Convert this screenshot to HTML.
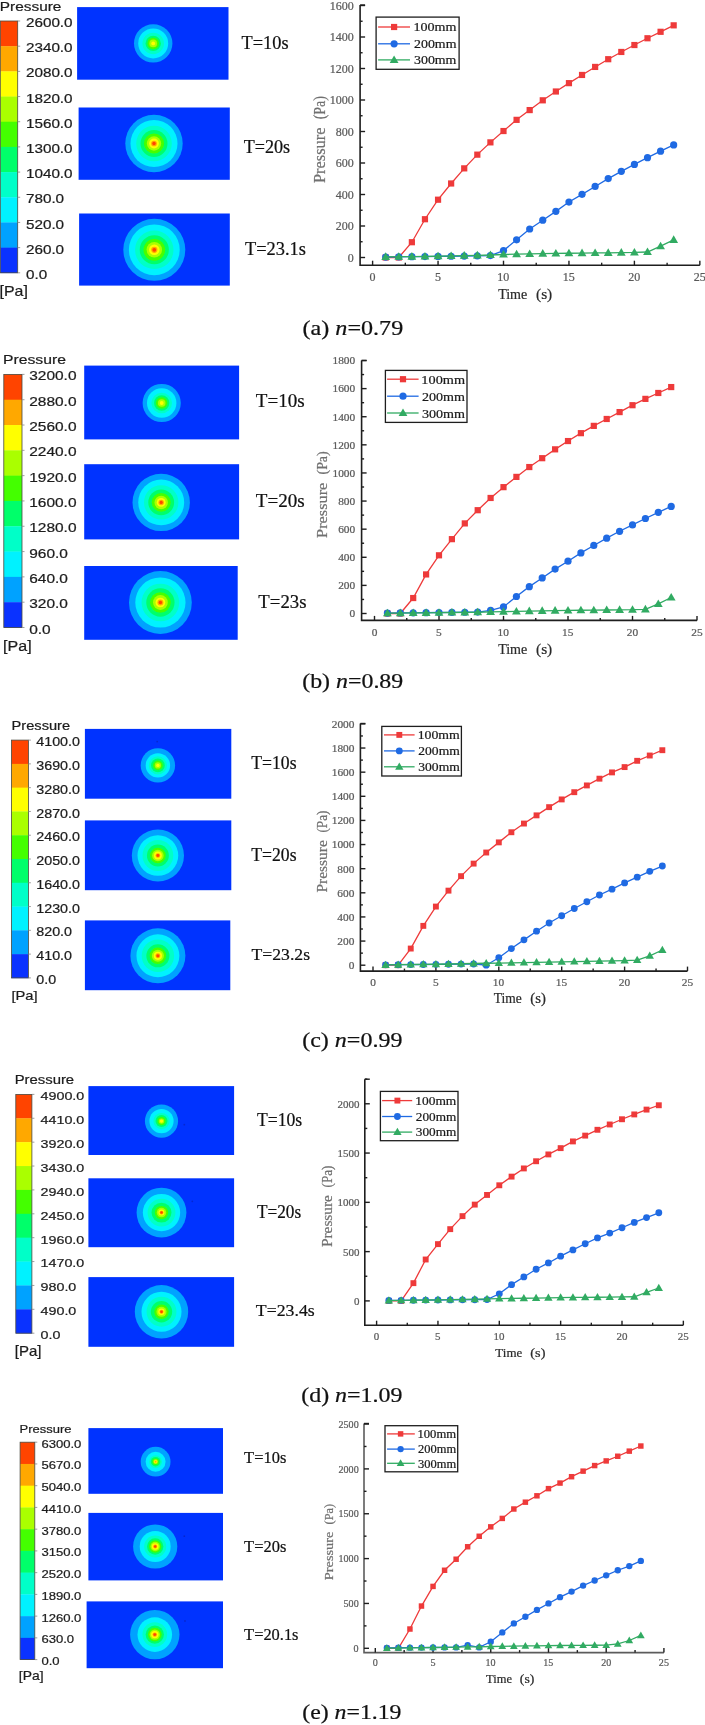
<!DOCTYPE html>
<html><head><meta charset="utf-8"><title>figure</title>
<style>html,body{margin:0;padding:0;background:#fff;}body{width:705px;height:1725px;overflow:hidden;}svg{display:block;filter:blur(0.35px);} .b text{stroke-width:0.22px;}</style>
</head><body>
<svg width="705" height="1725" viewBox="0 0 705 1725">
<defs><filter id="blur" x="-20%" y="-20%" width="140%" height="140%"><feGaussianBlur stdDeviation="0.7"/></filter></defs>
<rect width="705" height="1725" fill="#fff"/>
<g class="b">
<text x="-0.17" y="10.67" font-size="13.05" font-family='"Liberation Sans", sans-serif' fill="#1c1c1c" stroke="#1c1c1c" textLength="61.55" lengthAdjust="spacingAndGlyphs" >Pressure</text>
<rect x="0.3" y="21" width="17.4" height="25.48" fill="#ff4400"/>
<rect x="0.3" y="46.18" width="17.4" height="25.48" fill="#ffa800"/>
<rect x="0.3" y="71.36" width="17.4" height="25.48" fill="#ffff00"/>
<rect x="0.3" y="96.54" width="17.4" height="25.48" fill="#aaff00"/>
<rect x="0.3" y="121.72" width="17.4" height="25.48" fill="#44ff00"/>
<rect x="0.3" y="146.9" width="17.4" height="25.48" fill="#00ff6a"/>
<rect x="0.3" y="172.08" width="17.4" height="25.48" fill="#00ffc8"/>
<rect x="0.3" y="197.26" width="17.4" height="25.48" fill="#00f2ff"/>
<rect x="0.3" y="222.44" width="17.4" height="25.48" fill="#00a2ff"/>
<rect x="0.3" y="247.62" width="17.4" height="25.48" fill="#0a32ff"/>
<rect x="0.3" y="21" width="17.4" height="251.8" fill="none" stroke="#4a4a40" stroke-width="0.8"/>
<line x1="17.7" y1="21" x2="20.2" y2="21" stroke="#888" stroke-width="0.8"/>
<text x="25.94" y="27.07" font-size="12.72" font-family='"Liberation Sans", sans-serif' fill="#1c1c1c" stroke="#1c1c1c" textLength="46.65" lengthAdjust="spacingAndGlyphs">2600.0</text>
<line x1="17.7" y1="46.18" x2="20.2" y2="46.18" stroke="#888" stroke-width="0.8"/>
<text x="25.94" y="52.25" font-size="12.72" font-family='"Liberation Sans", sans-serif' fill="#1c1c1c" stroke="#1c1c1c" textLength="46.65" lengthAdjust="spacingAndGlyphs">2340.0</text>
<line x1="17.7" y1="71.36" x2="20.2" y2="71.36" stroke="#888" stroke-width="0.8"/>
<text x="25.94" y="77.43" font-size="12.72" font-family='"Liberation Sans", sans-serif' fill="#1c1c1c" stroke="#1c1c1c" textLength="46.65" lengthAdjust="spacingAndGlyphs">2080.0</text>
<line x1="17.7" y1="96.54" x2="20.2" y2="96.54" stroke="#888" stroke-width="0.8"/>
<text x="25.94" y="102.61" font-size="12.72" font-family='"Liberation Sans", sans-serif' fill="#1c1c1c" stroke="#1c1c1c" textLength="46.65" lengthAdjust="spacingAndGlyphs">1820.0</text>
<line x1="17.7" y1="121.72" x2="20.2" y2="121.72" stroke="#888" stroke-width="0.8"/>
<text x="25.94" y="127.79" font-size="12.72" font-family='"Liberation Sans", sans-serif' fill="#1c1c1c" stroke="#1c1c1c" textLength="46.65" lengthAdjust="spacingAndGlyphs">1560.0</text>
<line x1="17.7" y1="146.9" x2="20.2" y2="146.9" stroke="#888" stroke-width="0.8"/>
<text x="25.94" y="152.97" font-size="12.72" font-family='"Liberation Sans", sans-serif' fill="#1c1c1c" stroke="#1c1c1c" textLength="46.65" lengthAdjust="spacingAndGlyphs">1300.0</text>
<line x1="17.7" y1="172.08" x2="20.2" y2="172.08" stroke="#888" stroke-width="0.8"/>
<text x="25.94" y="178.15" font-size="12.72" font-family='"Liberation Sans", sans-serif' fill="#1c1c1c" stroke="#1c1c1c" textLength="46.65" lengthAdjust="spacingAndGlyphs">1040.0</text>
<line x1="17.7" y1="197.26" x2="20.2" y2="197.26" stroke="#888" stroke-width="0.8"/>
<text x="25.94" y="203.33" font-size="12.72" font-family='"Liberation Sans", sans-serif' fill="#1c1c1c" stroke="#1c1c1c" textLength="38.17" lengthAdjust="spacingAndGlyphs">780.0</text>
<line x1="17.7" y1="222.44" x2="20.2" y2="222.44" stroke="#888" stroke-width="0.8"/>
<text x="25.94" y="228.51" font-size="12.72" font-family='"Liberation Sans", sans-serif' fill="#1c1c1c" stroke="#1c1c1c" textLength="38.17" lengthAdjust="spacingAndGlyphs">520.0</text>
<line x1="17.7" y1="247.62" x2="20.2" y2="247.62" stroke="#888" stroke-width="0.8"/>
<text x="25.94" y="253.69" font-size="12.72" font-family='"Liberation Sans", sans-serif' fill="#1c1c1c" stroke="#1c1c1c" textLength="38.17" lengthAdjust="spacingAndGlyphs">260.0</text>
<line x1="17.7" y1="272.8" x2="20.2" y2="272.8" stroke="#888" stroke-width="0.8"/>
<text x="25.94" y="278.87" font-size="12.72" font-family='"Liberation Sans", sans-serif' fill="#1c1c1c" stroke="#1c1c1c" textLength="21.2" lengthAdjust="spacingAndGlyphs">0.0</text>
<text x="-0.45" y="296.42" font-size="14.37" font-family='"Liberation Sans", sans-serif' fill="#1c1c1c" stroke="#1c1c1c" textLength="28.29" lengthAdjust="spacingAndGlyphs" >[Pa]</text>
<rect x="77.1" y="7.1" width="151.4" height="72.6" fill="#0033ff"/>
<g filter="url(#blur)">
<circle cx="153.2" cy="43.4" r="19.2" fill="#00a2ff"/>
<circle cx="153.2" cy="43.4" r="14.98" fill="#00f2ff"/>
<circle cx="153.2" cy="43.4" r="10.75" fill="#00ffc8"/>
<circle cx="153.2" cy="43.4" r="7.68" fill="#00ff6a"/>
<circle cx="153.2" cy="43.4" r="5.76" fill="#44ff00"/>
<circle cx="153.2" cy="43.4" r="3.84" fill="#aaff00"/>
<circle cx="153.2" cy="43.4" r="1.92" fill="#ffff00"/>
</g>
<rect x="78.6" y="107.5" width="151.2" height="72.3" fill="#0033ff"/>
<g filter="url(#blur)">
<circle cx="154" cy="143.5" r="28.7" fill="#00a2ff"/>
<circle cx="154" cy="143.5" r="23.53" fill="#00f2ff"/>
<circle cx="154" cy="143.5" r="17.79" fill="#00ffc8"/>
<circle cx="154" cy="143.5" r="13.49" fill="#00ff6a"/>
<circle cx="154" cy="143.5" r="10.04" fill="#44ff00"/>
<circle cx="154" cy="143.5" r="7.17" fill="#aaff00"/>
<circle cx="154" cy="143.5" r="4.88" fill="#ffff00"/>
<circle cx="154" cy="143.5" r="2.87" fill="#ffa800"/>
<circle cx="154" cy="143.5" r="1.72" fill="#ff4400"/>
</g>
<rect x="79.1" y="213.5" width="150.7" height="72.1" fill="#0033ff"/>
<g filter="url(#blur)">
<circle cx="154.3" cy="249.8" r="31" fill="#00a2ff"/>
<circle cx="154.3" cy="249.8" r="25.42" fill="#00f2ff"/>
<circle cx="154.3" cy="249.8" r="19.22" fill="#00ffc8"/>
<circle cx="154.3" cy="249.8" r="14.57" fill="#00ff6a"/>
<circle cx="154.3" cy="249.8" r="10.85" fill="#44ff00"/>
<circle cx="154.3" cy="249.8" r="7.75" fill="#aaff00"/>
<circle cx="154.3" cy="249.8" r="5.27" fill="#ffff00"/>
<circle cx="154.3" cy="249.8" r="3.1" fill="#ffa800"/>
<circle cx="154.3" cy="249.8" r="1.86" fill="#ff4400"/>
</g>
<text x="241.58" y="49.21" font-size="18.67" font-family='"Liberation Serif", serif' fill="#111" stroke="#111" textLength="46.99" lengthAdjust="spacingAndGlyphs" >T=10s</text>
<text x="243.68" y="153.11" font-size="18.67" font-family='"Liberation Serif", serif' fill="#111" stroke="#111" textLength="46.38" lengthAdjust="spacingAndGlyphs" >T=20s</text>
<text x="244.98" y="255.22" font-size="18.6" font-family='"Liberation Serif", serif' fill="#111" stroke="#111" textLength="60.99" lengthAdjust="spacingAndGlyphs" >T=23.1s</text>
<path d="M360.1 5 V265.2 H699.85" fill="none" stroke="#1e1e1e" stroke-width="1.6"/>
<line x1="360.1" y1="257.5" x2="365.1" y2="257.5" stroke="#1e1e1e" stroke-width="1.4"/>
<text x="347.74" y="261.68" font-size="11.56" font-family='"Liberation Serif", serif' fill="#5a5a5a" stroke="#5a5a5a" textLength="6.01" lengthAdjust="spacingAndGlyphs">0</text>
<line x1="360.1" y1="241.75" x2="362.6" y2="241.75" stroke="#1e1e1e" stroke-width="1.4"/>
<line x1="360.1" y1="226" x2="365.1" y2="226" stroke="#1e1e1e" stroke-width="1.4"/>
<text x="335.72" y="230.18" font-size="11.56" font-family='"Liberation Serif", serif' fill="#5a5a5a" stroke="#5a5a5a" textLength="18.03" lengthAdjust="spacingAndGlyphs">200</text>
<line x1="360.1" y1="210.25" x2="362.6" y2="210.25" stroke="#1e1e1e" stroke-width="1.4"/>
<line x1="360.1" y1="194.5" x2="365.1" y2="194.5" stroke="#1e1e1e" stroke-width="1.4"/>
<text x="335.72" y="198.68" font-size="11.56" font-family='"Liberation Serif", serif' fill="#5a5a5a" stroke="#5a5a5a" textLength="18.03" lengthAdjust="spacingAndGlyphs">400</text>
<line x1="360.1" y1="178.75" x2="362.6" y2="178.75" stroke="#1e1e1e" stroke-width="1.4"/>
<line x1="360.1" y1="163" x2="365.1" y2="163" stroke="#1e1e1e" stroke-width="1.4"/>
<text x="335.72" y="167.18" font-size="11.56" font-family='"Liberation Serif", serif' fill="#5a5a5a" stroke="#5a5a5a" textLength="18.03" lengthAdjust="spacingAndGlyphs">600</text>
<line x1="360.1" y1="147.25" x2="362.6" y2="147.25" stroke="#1e1e1e" stroke-width="1.4"/>
<line x1="360.1" y1="131.5" x2="365.1" y2="131.5" stroke="#1e1e1e" stroke-width="1.4"/>
<text x="335.72" y="135.68" font-size="11.56" font-family='"Liberation Serif", serif' fill="#5a5a5a" stroke="#5a5a5a" textLength="18.03" lengthAdjust="spacingAndGlyphs">800</text>
<line x1="360.1" y1="115.75" x2="362.6" y2="115.75" stroke="#1e1e1e" stroke-width="1.4"/>
<line x1="360.1" y1="100" x2="365.1" y2="100" stroke="#1e1e1e" stroke-width="1.4"/>
<text x="329.72" y="104.18" font-size="11.56" font-family='"Liberation Serif", serif' fill="#5a5a5a" stroke="#5a5a5a" textLength="24.04" lengthAdjust="spacingAndGlyphs">1000</text>
<line x1="360.1" y1="84.25" x2="362.6" y2="84.25" stroke="#1e1e1e" stroke-width="1.4"/>
<line x1="360.1" y1="68.5" x2="365.1" y2="68.5" stroke="#1e1e1e" stroke-width="1.4"/>
<text x="329.72" y="72.68" font-size="11.56" font-family='"Liberation Serif", serif' fill="#5a5a5a" stroke="#5a5a5a" textLength="24.04" lengthAdjust="spacingAndGlyphs">1200</text>
<line x1="360.1" y1="52.75" x2="362.6" y2="52.75" stroke="#1e1e1e" stroke-width="1.4"/>
<line x1="360.1" y1="37" x2="365.1" y2="37" stroke="#1e1e1e" stroke-width="1.4"/>
<text x="329.72" y="41.18" font-size="11.56" font-family='"Liberation Serif", serif' fill="#5a5a5a" stroke="#5a5a5a" textLength="24.04" lengthAdjust="spacingAndGlyphs">1400</text>
<line x1="360.1" y1="21.25" x2="362.6" y2="21.25" stroke="#1e1e1e" stroke-width="1.4"/>
<line x1="360.1" y1="5.5" x2="365.1" y2="5.5" stroke="#1e1e1e" stroke-width="1.4"/>
<text x="329.72" y="9.68" font-size="11.56" font-family='"Liberation Serif", serif' fill="#5a5a5a" stroke="#5a5a5a" textLength="24.04" lengthAdjust="spacingAndGlyphs">1600</text>
<line x1="360.1" y1="5" x2="365.1" y2="5" stroke="#1e1e1e" stroke-width="1.4"/>
<line x1="372.6" y1="265.2" x2="372.6" y2="260.7" stroke="#1e1e1e" stroke-width="1.4"/>
<text x="369.6" y="281.18" font-size="11.56" font-family='"Liberation Serif", serif' fill="#5a5a5a" stroke="#5a5a5a" textLength="6.01" lengthAdjust="spacingAndGlyphs">0</text>
<line x1="405.33" y1="265.2" x2="405.33" y2="262.7" stroke="#1e1e1e" stroke-width="1.4"/>
<line x1="438.05" y1="265.2" x2="438.05" y2="260.7" stroke="#1e1e1e" stroke-width="1.4"/>
<text x="434.94" y="281.18" font-size="11.56" font-family='"Liberation Serif", serif' fill="#5a5a5a" stroke="#5a5a5a" textLength="6.01" lengthAdjust="spacingAndGlyphs">5</text>
<line x1="470.78" y1="265.2" x2="470.78" y2="262.7" stroke="#1e1e1e" stroke-width="1.4"/>
<line x1="503.5" y1="265.2" x2="503.5" y2="260.7" stroke="#1e1e1e" stroke-width="1.4"/>
<text x="497.19" y="281.18" font-size="11.56" font-family='"Liberation Serif", serif' fill="#5a5a5a" stroke="#5a5a5a" textLength="12.02" lengthAdjust="spacingAndGlyphs">10</text>
<line x1="536.23" y1="265.2" x2="536.23" y2="262.7" stroke="#1e1e1e" stroke-width="1.4"/>
<line x1="568.95" y1="265.2" x2="568.95" y2="260.7" stroke="#1e1e1e" stroke-width="1.4"/>
<text x="562.66" y="281.18" font-size="11.56" font-family='"Liberation Serif", serif' fill="#5a5a5a" stroke="#5a5a5a" textLength="12.02" lengthAdjust="spacingAndGlyphs">15</text>
<line x1="601.67" y1="265.2" x2="601.67" y2="262.7" stroke="#1e1e1e" stroke-width="1.4"/>
<line x1="634.4" y1="265.2" x2="634.4" y2="260.7" stroke="#1e1e1e" stroke-width="1.4"/>
<text x="628.35" y="281.18" font-size="11.56" font-family='"Liberation Serif", serif' fill="#5a5a5a" stroke="#5a5a5a" textLength="12.02" lengthAdjust="spacingAndGlyphs">20</text>
<line x1="667.12" y1="265.2" x2="667.12" y2="262.7" stroke="#1e1e1e" stroke-width="1.4"/>
<line x1="699.85" y1="265.2" x2="699.85" y2="260.7" stroke="#1e1e1e" stroke-width="1.4"/>
<text x="693.81" y="281.18" font-size="11.56" font-family='"Liberation Serif", serif' fill="#5a5a5a" stroke="#5a5a5a" textLength="12.02" lengthAdjust="spacingAndGlyphs">25</text>
<text x="498.15" y="298.95" font-size="14.72" font-family='"Liberation Serif", serif' fill="#2a2a2a" stroke="#2a2a2a" textLength="29.11" lengthAdjust="spacingAndGlyphs" >Time</text>
<text x="536.01" y="299.1" font-size="14.72" font-family='"Liberation Serif", serif' fill="#2a2a2a" stroke="#2a2a2a" textLength="16.25" lengthAdjust="spacingAndGlyphs">(s)</text>
<g transform="translate(325 182.6) rotate(-90)">
<text x="-0.49" y="-0.16" font-size="15.94" font-family='"Liberation Serif", serif' fill="#707070" stroke="#707070" textLength="55.56" lengthAdjust="spacingAndGlyphs" >Pressure</text>
<text x="63.27" y="0" font-size="15.94" font-family='"Liberation Serif", serif' fill="#707070" stroke="#707070" textLength="23.34" lengthAdjust="spacingAndGlyphs">(Pa)</text>
</g>
<polyline points="385.69,257.5 398.78,257.5 411.87,242.22 424.96,219.23 438.05,199.7 451.14,183.47 464.23,168.36 477.32,154.65 490.41,142.37 503.5,131.03 516.59,119.84 529.68,110.08 542.77,100.31 555.86,91.5 568.95,83.15 582.04,74.96 595.13,66.93 608.22,59.21 621.31,51.96 634.4,45.03 647.49,38.26 660.58,31.8 673.67,25.34" fill="none" stroke="#ee3a3a" stroke-width="1.3"/>
<rect x="382.59" y="254.4" width="6.2" height="6.2" fill="#ee3a3a"/>
<rect x="395.68" y="254.4" width="6.2" height="6.2" fill="#ee3a3a"/>
<rect x="408.77" y="239.12" width="6.2" height="6.2" fill="#ee3a3a"/>
<rect x="421.86" y="216.13" width="6.2" height="6.2" fill="#ee3a3a"/>
<rect x="434.95" y="196.6" width="6.2" height="6.2" fill="#ee3a3a"/>
<rect x="448.04" y="180.38" width="6.2" height="6.2" fill="#ee3a3a"/>
<rect x="461.13" y="165.26" width="6.2" height="6.2" fill="#ee3a3a"/>
<rect x="474.22" y="151.55" width="6.2" height="6.2" fill="#ee3a3a"/>
<rect x="487.31" y="139.27" width="6.2" height="6.2" fill="#ee3a3a"/>
<rect x="500.4" y="127.93" width="6.2" height="6.2" fill="#ee3a3a"/>
<rect x="513.49" y="116.75" width="6.2" height="6.2" fill="#ee3a3a"/>
<rect x="526.58" y="106.98" width="6.2" height="6.2" fill="#ee3a3a"/>
<rect x="539.67" y="97.22" width="6.2" height="6.2" fill="#ee3a3a"/>
<rect x="552.76" y="88.4" width="6.2" height="6.2" fill="#ee3a3a"/>
<rect x="565.85" y="80.05" width="6.2" height="6.2" fill="#ee3a3a"/>
<rect x="578.94" y="71.86" width="6.2" height="6.2" fill="#ee3a3a"/>
<rect x="592.03" y="63.83" width="6.2" height="6.2" fill="#ee3a3a"/>
<rect x="605.12" y="56.11" width="6.2" height="6.2" fill="#ee3a3a"/>
<rect x="618.21" y="48.86" width="6.2" height="6.2" fill="#ee3a3a"/>
<rect x="631.3" y="41.93" width="6.2" height="6.2" fill="#ee3a3a"/>
<rect x="644.39" y="35.16" width="6.2" height="6.2" fill="#ee3a3a"/>
<rect x="657.48" y="28.7" width="6.2" height="6.2" fill="#ee3a3a"/>
<rect x="670.57" y="22.24" width="6.2" height="6.2" fill="#ee3a3a"/>
<polyline points="385.69,257.03 398.78,256.87 411.87,256.71 424.96,256.56 438.05,256.4 451.14,256.24 464.23,256.08 477.32,255.93 490.41,255.61 503.5,250.57 516.59,239.86 529.68,228.99 542.77,220.17 555.86,211.35 568.95,202.06 582.04,194.34 595.13,186.47 608.22,178.59 621.31,171.35 634.4,164.42 647.49,157.64 660.58,151.19 673.67,144.89" fill="none" stroke="#1f6ae3" stroke-width="1.3"/>
<circle cx="385.69" cy="257.03" r="3.6" fill="#1f6ae3"/>
<circle cx="398.78" cy="256.87" r="3.6" fill="#1f6ae3"/>
<circle cx="411.87" cy="256.71" r="3.6" fill="#1f6ae3"/>
<circle cx="424.96" cy="256.56" r="3.6" fill="#1f6ae3"/>
<circle cx="438.05" cy="256.4" r="3.6" fill="#1f6ae3"/>
<circle cx="451.14" cy="256.24" r="3.6" fill="#1f6ae3"/>
<circle cx="464.23" cy="256.08" r="3.6" fill="#1f6ae3"/>
<circle cx="477.32" cy="255.93" r="3.6" fill="#1f6ae3"/>
<circle cx="490.41" cy="255.61" r="3.6" fill="#1f6ae3"/>
<circle cx="503.5" cy="250.57" r="3.6" fill="#1f6ae3"/>
<circle cx="516.59" cy="239.86" r="3.6" fill="#1f6ae3"/>
<circle cx="529.68" cy="228.99" r="3.6" fill="#1f6ae3"/>
<circle cx="542.77" cy="220.17" r="3.6" fill="#1f6ae3"/>
<circle cx="555.86" cy="211.35" r="3.6" fill="#1f6ae3"/>
<circle cx="568.95" cy="202.06" r="3.6" fill="#1f6ae3"/>
<circle cx="582.04" cy="194.34" r="3.6" fill="#1f6ae3"/>
<circle cx="595.13" cy="186.47" r="3.6" fill="#1f6ae3"/>
<circle cx="608.22" cy="178.59" r="3.6" fill="#1f6ae3"/>
<circle cx="621.31" cy="171.35" r="3.6" fill="#1f6ae3"/>
<circle cx="634.4" cy="164.42" r="3.6" fill="#1f6ae3"/>
<circle cx="647.49" cy="157.64" r="3.6" fill="#1f6ae3"/>
<circle cx="660.58" cy="151.19" r="3.6" fill="#1f6ae3"/>
<circle cx="673.67" cy="144.89" r="3.6" fill="#1f6ae3"/>
<polyline points="385.69,256.87 398.78,256.71 411.87,256.56 424.96,256.4 438.05,256.24 451.14,255.93 464.23,255.61 477.32,255.29 490.41,254.98 503.5,254.51 516.59,254.19 529.68,253.88 542.77,253.56 555.86,253.41 568.95,253.25 582.04,253.09 595.13,252.93 608.22,252.78 621.31,252.62 634.4,252.46 647.49,251.99 660.58,246.16 673.67,239.86" fill="none" stroke="#31ab62" stroke-width="1.3"/>
<path d="M381.29 259.97 L390.09 259.97 L385.69 252.37 Z" fill="#31ab62"/>
<path d="M394.38 259.81 L403.18 259.81 L398.78 252.21 Z" fill="#31ab62"/>
<path d="M407.47 259.66 L416.27 259.66 L411.87 252.06 Z" fill="#31ab62"/>
<path d="M420.56 259.5 L429.36 259.5 L424.96 251.9 Z" fill="#31ab62"/>
<path d="M433.65 259.34 L442.45 259.34 L438.05 251.74 Z" fill="#31ab62"/>
<path d="M446.74 259.03 L455.54 259.03 L451.14 251.43 Z" fill="#31ab62"/>
<path d="M459.83 258.71 L468.63 258.71 L464.23 251.11 Z" fill="#31ab62"/>
<path d="M472.92 258.39 L481.72 258.39 L477.32 250.79 Z" fill="#31ab62"/>
<path d="M486.01 258.08 L494.81 258.08 L490.41 250.48 Z" fill="#31ab62"/>
<path d="M499.1 257.61 L507.9 257.61 L503.5 250.01 Z" fill="#31ab62"/>
<path d="M512.19 257.29 L520.99 257.29 L516.59 249.69 Z" fill="#31ab62"/>
<path d="M525.28 256.98 L534.08 256.98 L529.68 249.38 Z" fill="#31ab62"/>
<path d="M538.37 256.66 L547.17 256.66 L542.77 249.06 Z" fill="#31ab62"/>
<path d="M551.46 256.5 L560.26 256.5 L555.86 248.91 Z" fill="#31ab62"/>
<path d="M564.55 256.35 L573.35 256.35 L568.95 248.75 Z" fill="#31ab62"/>
<path d="M577.64 256.19 L586.44 256.19 L582.04 248.59 Z" fill="#31ab62"/>
<path d="M590.73 256.03 L599.53 256.03 L595.13 248.43 Z" fill="#31ab62"/>
<path d="M603.82 255.88 L612.62 255.88 L608.22 248.28 Z" fill="#31ab62"/>
<path d="M616.91 255.72 L625.71 255.72 L621.31 248.12 Z" fill="#31ab62"/>
<path d="M630 255.56 L638.8 255.56 L634.4 247.96 Z" fill="#31ab62"/>
<path d="M643.09 255.09 L651.89 255.09 L647.49 247.49 Z" fill="#31ab62"/>
<path d="M656.18 249.26 L664.98 249.26 L660.58 241.66 Z" fill="#31ab62"/>
<path d="M669.27 242.96 L678.07 242.96 L673.67 235.36 Z" fill="#31ab62"/>
<rect x="376.1" y="17.1" width="83" height="52.2" fill="#fff" stroke="#1e1e1e" stroke-width="1.3"/>
<line x1="378.1" y1="27" x2="410" y2="27" stroke="#ee3a3a" stroke-width="1.3"/>
<rect x="391" y="23.9" width="6.2" height="6.2" fill="#ee3a3a"/>
<text x="413.47" y="31.17" font-size="12.59" font-family='"Liberation Serif", serif' fill="#1a1a1a" stroke="#1a1a1a" textLength="42.95" lengthAdjust="spacingAndGlyphs" >100mm</text>
<line x1="378.1" y1="43.8" x2="410" y2="43.8" stroke="#1f6ae3" stroke-width="1.3"/>
<circle cx="394.1" cy="43.8" r="3.6" fill="#1f6ae3"/>
<text x="414.08" y="47.97" font-size="12.59" font-family='"Liberation Serif", serif' fill="#1a1a1a" stroke="#1a1a1a" textLength="42.34" lengthAdjust="spacingAndGlyphs" >200mm</text>
<line x1="378.1" y1="59.9" x2="410" y2="59.9" stroke="#31ab62" stroke-width="1.3"/>
<path d="M389.7 63 L398.5 63 L394.1 55.4 Z" fill="#31ab62"/>
<text x="414.04" y="64.07" font-size="12.59" font-family='"Liberation Serif", serif' fill="#1a1a1a" stroke="#1a1a1a" textLength="42.38" lengthAdjust="spacingAndGlyphs" >300mm</text>
<text x="302.51" y="334.8" font-size="20.44" font-family='"Liberation Serif", serif' fill="#111" stroke="#111" textLength="100.73" lengthAdjust="spacingAndGlyphs">(a) <tspan font-style="italic">n</tspan>=0.79</text>
<text x="3" y="363.97" font-size="13.19" font-family='"Liberation Sans", sans-serif' fill="#1c1c1c" stroke="#1c1c1c" textLength="62.89" lengthAdjust="spacingAndGlyphs" >Pressure</text>
<rect x="3.8" y="374.4" width="18.2" height="25.61" fill="#ff4400"/>
<rect x="3.8" y="399.71" width="18.2" height="25.61" fill="#ffa800"/>
<rect x="3.8" y="425.02" width="18.2" height="25.61" fill="#ffff00"/>
<rect x="3.8" y="450.33" width="18.2" height="25.61" fill="#aaff00"/>
<rect x="3.8" y="475.64" width="18.2" height="25.61" fill="#44ff00"/>
<rect x="3.8" y="500.95" width="18.2" height="25.61" fill="#00ff6a"/>
<rect x="3.8" y="526.26" width="18.2" height="25.61" fill="#00ffc8"/>
<rect x="3.8" y="551.57" width="18.2" height="25.61" fill="#00f2ff"/>
<rect x="3.8" y="576.88" width="18.2" height="25.61" fill="#00a2ff"/>
<rect x="3.8" y="602.19" width="18.2" height="25.61" fill="#0a32ff"/>
<rect x="3.8" y="374.4" width="18.2" height="253.1" fill="none" stroke="#4a4a40" stroke-width="0.8"/>
<line x1="22" y1="374.4" x2="24.5" y2="374.4" stroke="#888" stroke-width="0.8"/>
<text x="29.22" y="380.47" font-size="12.72" font-family='"Liberation Sans", sans-serif' fill="#1c1c1c" stroke="#1c1c1c" textLength="47.28" lengthAdjust="spacingAndGlyphs">3200.0</text>
<line x1="22" y1="399.71" x2="24.5" y2="399.71" stroke="#888" stroke-width="0.8"/>
<text x="29.22" y="405.78" font-size="12.72" font-family='"Liberation Sans", sans-serif' fill="#1c1c1c" stroke="#1c1c1c" textLength="47.28" lengthAdjust="spacingAndGlyphs">2880.0</text>
<line x1="22" y1="425.02" x2="24.5" y2="425.02" stroke="#888" stroke-width="0.8"/>
<text x="29.22" y="431.09" font-size="12.72" font-family='"Liberation Sans", sans-serif' fill="#1c1c1c" stroke="#1c1c1c" textLength="47.28" lengthAdjust="spacingAndGlyphs">2560.0</text>
<line x1="22" y1="450.33" x2="24.5" y2="450.33" stroke="#888" stroke-width="0.8"/>
<text x="29.22" y="456.4" font-size="12.72" font-family='"Liberation Sans", sans-serif' fill="#1c1c1c" stroke="#1c1c1c" textLength="47.28" lengthAdjust="spacingAndGlyphs">2240.0</text>
<line x1="22" y1="475.64" x2="24.5" y2="475.64" stroke="#888" stroke-width="0.8"/>
<text x="29.22" y="481.71" font-size="12.72" font-family='"Liberation Sans", sans-serif' fill="#1c1c1c" stroke="#1c1c1c" textLength="47.28" lengthAdjust="spacingAndGlyphs">1920.0</text>
<line x1="22" y1="500.95" x2="24.5" y2="500.95" stroke="#888" stroke-width="0.8"/>
<text x="29.22" y="507.02" font-size="12.72" font-family='"Liberation Sans", sans-serif' fill="#1c1c1c" stroke="#1c1c1c" textLength="47.28" lengthAdjust="spacingAndGlyphs">1600.0</text>
<line x1="22" y1="526.26" x2="24.5" y2="526.26" stroke="#888" stroke-width="0.8"/>
<text x="29.22" y="532.33" font-size="12.72" font-family='"Liberation Sans", sans-serif' fill="#1c1c1c" stroke="#1c1c1c" textLength="47.28" lengthAdjust="spacingAndGlyphs">1280.0</text>
<line x1="22" y1="551.57" x2="24.5" y2="551.57" stroke="#888" stroke-width="0.8"/>
<text x="29.22" y="557.64" font-size="12.72" font-family='"Liberation Sans", sans-serif' fill="#1c1c1c" stroke="#1c1c1c" textLength="38.68" lengthAdjust="spacingAndGlyphs">960.0</text>
<line x1="22" y1="576.88" x2="24.5" y2="576.88" stroke="#888" stroke-width="0.8"/>
<text x="29.22" y="582.95" font-size="12.72" font-family='"Liberation Sans", sans-serif' fill="#1c1c1c" stroke="#1c1c1c" textLength="38.68" lengthAdjust="spacingAndGlyphs">640.0</text>
<line x1="22" y1="602.19" x2="24.5" y2="602.19" stroke="#888" stroke-width="0.8"/>
<text x="29.22" y="608.26" font-size="12.72" font-family='"Liberation Sans", sans-serif' fill="#1c1c1c" stroke="#1c1c1c" textLength="38.68" lengthAdjust="spacingAndGlyphs">320.0</text>
<line x1="22" y1="627.5" x2="24.5" y2="627.5" stroke="#888" stroke-width="0.8"/>
<text x="29.22" y="633.57" font-size="12.72" font-family='"Liberation Sans", sans-serif' fill="#1c1c1c" stroke="#1c1c1c" textLength="21.49" lengthAdjust="spacingAndGlyphs">0.0</text>
<text x="3.14" y="651.34" font-size="15.23" font-family='"Liberation Sans", sans-serif' fill="#1c1c1c" stroke="#1c1c1c" textLength="28.51" lengthAdjust="spacingAndGlyphs" >[Pa]</text>
<rect x="84.2" y="365.6" width="154.9" height="73.8" fill="#0033ff"/>
<g filter="url(#blur)">
<circle cx="161.7" cy="403" r="19.1" fill="#00a2ff"/>
<circle cx="161.7" cy="403" r="14.71" fill="#00f2ff"/>
<circle cx="161.7" cy="403" r="10.31" fill="#00ffc8"/>
<circle cx="161.7" cy="403" r="7.64" fill="#00ff6a"/>
<circle cx="161.7" cy="403" r="5.73" fill="#44ff00"/>
<circle cx="161.7" cy="403" r="3.82" fill="#aaff00"/>
<circle cx="161.7" cy="403" r="1.91" fill="#ffff00"/>
</g>
<rect x="84.2" y="464.2" width="154.9" height="75.2" fill="#0033ff"/>
<g filter="url(#blur)">
<circle cx="161.2" cy="502.4" r="28.7" fill="#00a2ff"/>
<circle cx="161.2" cy="502.4" r="22.96" fill="#00f2ff"/>
<circle cx="161.2" cy="502.4" r="17.22" fill="#00ffc8"/>
<circle cx="161.2" cy="502.4" r="12.91" fill="#00ff6a"/>
<circle cx="161.2" cy="502.4" r="9.47" fill="#44ff00"/>
<circle cx="161.2" cy="502.4" r="6.74" fill="#aaff00"/>
<circle cx="161.2" cy="502.4" r="4.45" fill="#ffff00"/>
<circle cx="161.2" cy="502.4" r="2.73" fill="#ffa800"/>
<circle cx="161.2" cy="502.4" r="1.58" fill="#ff4400"/>
</g>
<rect x="84.2" y="566" width="153.5" height="73.8" fill="#0033ff"/>
<g filter="url(#blur)">
<circle cx="160.4" cy="602.5" r="31.4" fill="#00a2ff"/>
<circle cx="160.4" cy="602.5" r="25.12" fill="#00f2ff"/>
<circle cx="160.4" cy="602.5" r="18.84" fill="#00ffc8"/>
<circle cx="160.4" cy="602.5" r="14.13" fill="#00ff6a"/>
<circle cx="160.4" cy="602.5" r="10.36" fill="#44ff00"/>
<circle cx="160.4" cy="602.5" r="7.38" fill="#aaff00"/>
<circle cx="160.4" cy="602.5" r="4.87" fill="#ffff00"/>
<circle cx="160.4" cy="602.5" r="2.98" fill="#ffa800"/>
<circle cx="160.4" cy="602.5" r="1.73" fill="#ff4400"/>
</g>
<text x="255.87" y="407.31" font-size="18.96" font-family='"Liberation Serif", serif' fill="#111" stroke="#111" textLength="48.83" lengthAdjust="spacingAndGlyphs" >T=10s</text>
<text x="255.87" y="506.61" font-size="18.96" font-family='"Liberation Serif", serif' fill="#111" stroke="#111" textLength="48.83" lengthAdjust="spacingAndGlyphs" >T=20s</text>
<text x="258.37" y="608.31" font-size="19.03" font-family='"Liberation Serif", serif' fill="#111" stroke="#111" textLength="48.11" lengthAdjust="spacingAndGlyphs" >T=23s</text>
<path d="M361.6 360.5 V620.4 H697" fill="none" stroke="#1e1e1e" stroke-width="1.6"/>
<line x1="361.6" y1="613.5" x2="366.6" y2="613.5" stroke="#1e1e1e" stroke-width="1.4"/>
<text x="349.55" y="617.34" font-size="10.52" font-family='"Liberation Serif", serif' fill="#5a5a5a" stroke="#5a5a5a" textLength="5.68" lengthAdjust="spacingAndGlyphs">0</text>
<line x1="361.6" y1="599.45" x2="364.1" y2="599.45" stroke="#1e1e1e" stroke-width="1.4"/>
<line x1="361.6" y1="585.39" x2="366.6" y2="585.39" stroke="#1e1e1e" stroke-width="1.4"/>
<text x="338.19" y="589.23" font-size="10.52" font-family='"Liberation Serif", serif' fill="#5a5a5a" stroke="#5a5a5a" textLength="17.04" lengthAdjust="spacingAndGlyphs">200</text>
<line x1="361.6" y1="571.34" x2="364.1" y2="571.34" stroke="#1e1e1e" stroke-width="1.4"/>
<line x1="361.6" y1="557.28" x2="366.6" y2="557.28" stroke="#1e1e1e" stroke-width="1.4"/>
<text x="338.19" y="561.12" font-size="10.52" font-family='"Liberation Serif", serif' fill="#5a5a5a" stroke="#5a5a5a" textLength="17.04" lengthAdjust="spacingAndGlyphs">400</text>
<line x1="361.6" y1="543.23" x2="364.1" y2="543.23" stroke="#1e1e1e" stroke-width="1.4"/>
<line x1="361.6" y1="529.17" x2="366.6" y2="529.17" stroke="#1e1e1e" stroke-width="1.4"/>
<text x="338.19" y="533.01" font-size="10.52" font-family='"Liberation Serif", serif' fill="#5a5a5a" stroke="#5a5a5a" textLength="17.04" lengthAdjust="spacingAndGlyphs">600</text>
<line x1="361.6" y1="515.12" x2="364.1" y2="515.12" stroke="#1e1e1e" stroke-width="1.4"/>
<line x1="361.6" y1="501.06" x2="366.6" y2="501.06" stroke="#1e1e1e" stroke-width="1.4"/>
<text x="338.19" y="504.9" font-size="10.52" font-family='"Liberation Serif", serif' fill="#5a5a5a" stroke="#5a5a5a" textLength="17.04" lengthAdjust="spacingAndGlyphs">800</text>
<line x1="361.6" y1="487" x2="364.1" y2="487" stroke="#1e1e1e" stroke-width="1.4"/>
<line x1="361.6" y1="472.95" x2="366.6" y2="472.95" stroke="#1e1e1e" stroke-width="1.4"/>
<text x="332.51" y="476.79" font-size="10.52" font-family='"Liberation Serif", serif' fill="#5a5a5a" stroke="#5a5a5a" textLength="22.72" lengthAdjust="spacingAndGlyphs">1000</text>
<line x1="361.6" y1="458.89" x2="364.1" y2="458.89" stroke="#1e1e1e" stroke-width="1.4"/>
<line x1="361.6" y1="444.84" x2="366.6" y2="444.84" stroke="#1e1e1e" stroke-width="1.4"/>
<text x="332.51" y="448.68" font-size="10.52" font-family='"Liberation Serif", serif' fill="#5a5a5a" stroke="#5a5a5a" textLength="22.72" lengthAdjust="spacingAndGlyphs">1200</text>
<line x1="361.6" y1="430.78" x2="364.1" y2="430.78" stroke="#1e1e1e" stroke-width="1.4"/>
<line x1="361.6" y1="416.73" x2="366.6" y2="416.73" stroke="#1e1e1e" stroke-width="1.4"/>
<text x="332.51" y="420.57" font-size="10.52" font-family='"Liberation Serif", serif' fill="#5a5a5a" stroke="#5a5a5a" textLength="22.72" lengthAdjust="spacingAndGlyphs">1400</text>
<line x1="361.6" y1="402.67" x2="364.1" y2="402.67" stroke="#1e1e1e" stroke-width="1.4"/>
<line x1="361.6" y1="388.62" x2="366.6" y2="388.62" stroke="#1e1e1e" stroke-width="1.4"/>
<text x="332.51" y="392.46" font-size="10.52" font-family='"Liberation Serif", serif' fill="#5a5a5a" stroke="#5a5a5a" textLength="22.72" lengthAdjust="spacingAndGlyphs">1600</text>
<line x1="361.6" y1="374.56" x2="364.1" y2="374.56" stroke="#1e1e1e" stroke-width="1.4"/>
<line x1="361.6" y1="360.51" x2="366.6" y2="360.51" stroke="#1e1e1e" stroke-width="1.4"/>
<text x="332.51" y="364.35" font-size="10.52" font-family='"Liberation Serif", serif' fill="#5a5a5a" stroke="#5a5a5a" textLength="22.72" lengthAdjust="spacingAndGlyphs">1800</text>
<line x1="361.6" y1="360.5" x2="366.6" y2="360.5" stroke="#1e1e1e" stroke-width="1.4"/>
<line x1="374.5" y1="620.4" x2="374.5" y2="615.9" stroke="#1e1e1e" stroke-width="1.4"/>
<text x="371.66" y="635.64" font-size="10.52" font-family='"Liberation Serif", serif' fill="#5a5a5a" stroke="#5a5a5a" textLength="5.68" lengthAdjust="spacingAndGlyphs">0</text>
<line x1="406.75" y1="620.4" x2="406.75" y2="617.9" stroke="#1e1e1e" stroke-width="1.4"/>
<line x1="439" y1="620.4" x2="439" y2="615.9" stroke="#1e1e1e" stroke-width="1.4"/>
<text x="436.06" y="635.64" font-size="10.52" font-family='"Liberation Serif", serif' fill="#5a5a5a" stroke="#5a5a5a" textLength="5.68" lengthAdjust="spacingAndGlyphs">5</text>
<line x1="471.25" y1="620.4" x2="471.25" y2="617.9" stroke="#1e1e1e" stroke-width="1.4"/>
<line x1="503.5" y1="620.4" x2="503.5" y2="615.9" stroke="#1e1e1e" stroke-width="1.4"/>
<text x="497.54" y="635.64" font-size="10.52" font-family='"Liberation Serif", serif' fill="#5a5a5a" stroke="#5a5a5a" textLength="11.36" lengthAdjust="spacingAndGlyphs">10</text>
<line x1="535.75" y1="620.4" x2="535.75" y2="617.9" stroke="#1e1e1e" stroke-width="1.4"/>
<line x1="568" y1="620.4" x2="568" y2="615.9" stroke="#1e1e1e" stroke-width="1.4"/>
<text x="562.05" y="635.64" font-size="10.52" font-family='"Liberation Serif", serif' fill="#5a5a5a" stroke="#5a5a5a" textLength="11.36" lengthAdjust="spacingAndGlyphs">15</text>
<line x1="600.25" y1="620.4" x2="600.25" y2="617.9" stroke="#1e1e1e" stroke-width="1.4"/>
<line x1="632.5" y1="620.4" x2="632.5" y2="615.9" stroke="#1e1e1e" stroke-width="1.4"/>
<text x="626.78" y="635.64" font-size="10.52" font-family='"Liberation Serif", serif' fill="#5a5a5a" stroke="#5a5a5a" textLength="11.36" lengthAdjust="spacingAndGlyphs">20</text>
<line x1="664.75" y1="620.4" x2="664.75" y2="617.9" stroke="#1e1e1e" stroke-width="1.4"/>
<line x1="697" y1="620.4" x2="697" y2="615.9" stroke="#1e1e1e" stroke-width="1.4"/>
<text x="691.29" y="635.64" font-size="10.52" font-family='"Liberation Serif", serif' fill="#5a5a5a" stroke="#5a5a5a" textLength="11.36" lengthAdjust="spacingAndGlyphs">25</text>
<text x="498.15" y="653.95" font-size="14.72" font-family='"Liberation Serif", serif' fill="#2a2a2a" stroke="#2a2a2a" textLength="29.11" lengthAdjust="spacingAndGlyphs" >Time</text>
<text x="536.01" y="654.1" font-size="14.72" font-family='"Liberation Serif", serif' fill="#2a2a2a" stroke="#2a2a2a" textLength="16.25" lengthAdjust="spacingAndGlyphs">(s)</text>
<g transform="translate(327 537.4) rotate(-90)">
<text x="-0.49" y="-0.15" font-size="15.19" font-family='"Liberation Serif", serif' fill="#707070" stroke="#707070" textLength="55.24" lengthAdjust="spacingAndGlyphs" >Pressure</text>
<text x="62.9" y="0" font-size="15.19" font-family='"Liberation Serif", serif' fill="#707070" stroke="#707070" textLength="23.21" lengthAdjust="spacingAndGlyphs">(Pa)</text>
</g>
<polyline points="387.4,613.5 400.3,613.5 413.2,598.04 426.1,574.43 439,555.31 451.9,539.15 464.8,523.41 477.7,510.2 490.6,497.97 503.5,487.15 516.4,476.89 529.3,467.05 542.2,458.19 555.1,449.34 568,441.05 580.9,433.17 593.8,425.87 606.7,418.98 619.6,412.09 632.5,405.2 645.4,398.88 658.3,392.98 671.2,387.07" fill="none" stroke="#ee3a3a" stroke-width="1.3"/>
<rect x="384.3" y="610.4" width="6.2" height="6.2" fill="#ee3a3a"/>
<rect x="397.2" y="610.4" width="6.2" height="6.2" fill="#ee3a3a"/>
<rect x="410.1" y="594.94" width="6.2" height="6.2" fill="#ee3a3a"/>
<rect x="423" y="571.33" width="6.2" height="6.2" fill="#ee3a3a"/>
<rect x="435.9" y="552.21" width="6.2" height="6.2" fill="#ee3a3a"/>
<rect x="448.8" y="536.05" width="6.2" height="6.2" fill="#ee3a3a"/>
<rect x="461.7" y="520.31" width="6.2" height="6.2" fill="#ee3a3a"/>
<rect x="474.6" y="507.1" width="6.2" height="6.2" fill="#ee3a3a"/>
<rect x="487.5" y="494.87" width="6.2" height="6.2" fill="#ee3a3a"/>
<rect x="500.4" y="484.05" width="6.2" height="6.2" fill="#ee3a3a"/>
<rect x="513.3" y="473.79" width="6.2" height="6.2" fill="#ee3a3a"/>
<rect x="526.2" y="463.95" width="6.2" height="6.2" fill="#ee3a3a"/>
<rect x="539.1" y="455.09" width="6.2" height="6.2" fill="#ee3a3a"/>
<rect x="552" y="446.24" width="6.2" height="6.2" fill="#ee3a3a"/>
<rect x="564.9" y="437.95" width="6.2" height="6.2" fill="#ee3a3a"/>
<rect x="577.8" y="430.07" width="6.2" height="6.2" fill="#ee3a3a"/>
<rect x="590.7" y="422.77" width="6.2" height="6.2" fill="#ee3a3a"/>
<rect x="603.6" y="415.88" width="6.2" height="6.2" fill="#ee3a3a"/>
<rect x="616.5" y="408.99" width="6.2" height="6.2" fill="#ee3a3a"/>
<rect x="629.4" y="402.1" width="6.2" height="6.2" fill="#ee3a3a"/>
<rect x="642.3" y="395.78" width="6.2" height="6.2" fill="#ee3a3a"/>
<rect x="655.2" y="389.88" width="6.2" height="6.2" fill="#ee3a3a"/>
<rect x="668.1" y="383.97" width="6.2" height="6.2" fill="#ee3a3a"/>
<polyline points="387.4,613.08 400.3,612.94 413.2,612.8 426.1,612.66 439,612.52 451.9,612.38 464.8,612.24 477.7,612.09 490.6,610.27 503.5,606.89 516.4,596.49 529.3,586.65 542.2,577.94 555.1,569.09 568,561.22 580.9,552.92 593.8,545.47 606.7,538.17 619.6,531.28 632.5,524.95 645.4,518.49 658.3,512.3 671.2,506.4" fill="none" stroke="#1f6ae3" stroke-width="1.3"/>
<circle cx="387.4" cy="613.08" r="3.6" fill="#1f6ae3"/>
<circle cx="400.3" cy="612.94" r="3.6" fill="#1f6ae3"/>
<circle cx="413.2" cy="612.8" r="3.6" fill="#1f6ae3"/>
<circle cx="426.1" cy="612.66" r="3.6" fill="#1f6ae3"/>
<circle cx="439" cy="612.52" r="3.6" fill="#1f6ae3"/>
<circle cx="451.9" cy="612.38" r="3.6" fill="#1f6ae3"/>
<circle cx="464.8" cy="612.24" r="3.6" fill="#1f6ae3"/>
<circle cx="477.7" cy="612.09" r="3.6" fill="#1f6ae3"/>
<circle cx="490.6" cy="610.27" r="3.6" fill="#1f6ae3"/>
<circle cx="503.5" cy="606.89" r="3.6" fill="#1f6ae3"/>
<circle cx="516.4" cy="596.49" r="3.6" fill="#1f6ae3"/>
<circle cx="529.3" cy="586.65" r="3.6" fill="#1f6ae3"/>
<circle cx="542.2" cy="577.94" r="3.6" fill="#1f6ae3"/>
<circle cx="555.1" cy="569.09" r="3.6" fill="#1f6ae3"/>
<circle cx="568" cy="561.22" r="3.6" fill="#1f6ae3"/>
<circle cx="580.9" cy="552.92" r="3.6" fill="#1f6ae3"/>
<circle cx="593.8" cy="545.47" r="3.6" fill="#1f6ae3"/>
<circle cx="606.7" cy="538.17" r="3.6" fill="#1f6ae3"/>
<circle cx="619.6" cy="531.28" r="3.6" fill="#1f6ae3"/>
<circle cx="632.5" cy="524.95" r="3.6" fill="#1f6ae3"/>
<circle cx="645.4" cy="518.49" r="3.6" fill="#1f6ae3"/>
<circle cx="658.3" cy="512.3" r="3.6" fill="#1f6ae3"/>
<circle cx="671.2" cy="506.4" r="3.6" fill="#1f6ae3"/>
<polyline points="387.4,613.22 400.3,613.08 413.2,612.94 426.1,612.8 439,612.66 451.9,612.52 464.8,612.38 477.7,612.24 490.6,611.95 503.5,611.67 516.4,611.39 529.3,611.11 542.2,610.83 555.1,610.55 568,610.41 580.9,610.27 593.8,610.13 606.7,609.99 619.6,609.85 632.5,609.71 645.4,609.28 658.3,603.94 671.2,597.48" fill="none" stroke="#31ab62" stroke-width="1.3"/>
<path d="M383 616.32 L391.8 616.32 L387.4 608.72 Z" fill="#31ab62"/>
<path d="M395.9 616.18 L404.7 616.18 L400.3 608.58 Z" fill="#31ab62"/>
<path d="M408.8 616.04 L417.6 616.04 L413.2 608.44 Z" fill="#31ab62"/>
<path d="M421.7 615.9 L430.5 615.9 L426.1 608.3 Z" fill="#31ab62"/>
<path d="M434.6 615.76 L443.4 615.76 L439 608.16 Z" fill="#31ab62"/>
<path d="M447.5 615.62 L456.3 615.62 L451.9 608.02 Z" fill="#31ab62"/>
<path d="M460.4 615.48 L469.2 615.48 L464.8 607.88 Z" fill="#31ab62"/>
<path d="M473.3 615.34 L482.1 615.34 L477.7 607.74 Z" fill="#31ab62"/>
<path d="M486.2 615.05 L495 615.05 L490.6 607.45 Z" fill="#31ab62"/>
<path d="M499.1 614.77 L507.9 614.77 L503.5 607.17 Z" fill="#31ab62"/>
<path d="M512 614.49 L520.8 614.49 L516.4 606.89 Z" fill="#31ab62"/>
<path d="M524.9 614.21 L533.7 614.21 L529.3 606.61 Z" fill="#31ab62"/>
<path d="M537.8 613.93 L546.6 613.93 L542.2 606.33 Z" fill="#31ab62"/>
<path d="M550.7 613.65 L559.5 613.65 L555.1 606.05 Z" fill="#31ab62"/>
<path d="M563.6 613.51 L572.4 613.51 L568 605.91 Z" fill="#31ab62"/>
<path d="M576.5 613.37 L585.3 613.37 L580.9 605.77 Z" fill="#31ab62"/>
<path d="M589.4 613.23 L598.2 613.23 L593.8 605.63 Z" fill="#31ab62"/>
<path d="M602.3 613.09 L611.1 613.09 L606.7 605.49 Z" fill="#31ab62"/>
<path d="M615.2 612.95 L624 612.95 L619.6 605.35 Z" fill="#31ab62"/>
<path d="M628.1 612.81 L636.9 612.81 L632.5 605.21 Z" fill="#31ab62"/>
<path d="M641 612.38 L649.8 612.38 L645.4 604.78 Z" fill="#31ab62"/>
<path d="M653.9 607.04 L662.7 607.04 L658.3 599.44 Z" fill="#31ab62"/>
<path d="M666.8 600.58 L675.6 600.58 L671.2 592.98 Z" fill="#31ab62"/>
<rect x="385.4" y="370.4" width="81.6" height="52" fill="#fff" stroke="#1e1e1e" stroke-width="1.3"/>
<line x1="387.1" y1="379.2" x2="418.6" y2="379.2" stroke="#ee3a3a" stroke-width="1.3"/>
<rect x="399.9" y="376.1" width="6.2" height="6.2" fill="#ee3a3a"/>
<text x="421.35" y="384.27" font-size="13.04" font-family='"Liberation Serif", serif' fill="#1a1a1a" stroke="#1a1a1a" textLength="43.68" lengthAdjust="spacingAndGlyphs" >100mm</text>
<line x1="387.1" y1="396.2" x2="418.6" y2="396.2" stroke="#1f6ae3" stroke-width="1.3"/>
<circle cx="403" cy="396.2" r="3.6" fill="#1f6ae3"/>
<text x="421.97" y="401.27" font-size="13.04" font-family='"Liberation Serif", serif' fill="#1a1a1a" stroke="#1a1a1a" textLength="43.06" lengthAdjust="spacingAndGlyphs" >200mm</text>
<line x1="387.1" y1="413" x2="418.6" y2="413" stroke="#31ab62" stroke-width="1.3"/>
<path d="M398.6 416.1 L407.4 416.1 L403 408.5 Z" fill="#31ab62"/>
<text x="421.93" y="418.07" font-size="13.04" font-family='"Liberation Serif", serif' fill="#1a1a1a" stroke="#1a1a1a" textLength="43.09" lengthAdjust="spacingAndGlyphs" >300mm</text>
<text x="302.23" y="688" font-size="20.44" font-family='"Liberation Serif", serif' fill="#111" stroke="#111" textLength="101.01" lengthAdjust="spacingAndGlyphs">(b) <tspan font-style="italic">n</tspan>=0.89</text>
<text x="11.59" y="730.47" font-size="13.33" font-family='"Liberation Sans", sans-serif' fill="#1c1c1c" stroke="#1c1c1c" textLength="58.55" lengthAdjust="spacingAndGlyphs" >Pressure</text>
<rect x="11.5" y="740.1" width="16.9" height="24.08" fill="#ff4400"/>
<rect x="11.5" y="763.88" width="16.9" height="24.08" fill="#ffa800"/>
<rect x="11.5" y="787.66" width="16.9" height="24.08" fill="#ffff00"/>
<rect x="11.5" y="811.44" width="16.9" height="24.08" fill="#aaff00"/>
<rect x="11.5" y="835.22" width="16.9" height="24.08" fill="#44ff00"/>
<rect x="11.5" y="859" width="16.9" height="24.08" fill="#00ff6a"/>
<rect x="11.5" y="882.78" width="16.9" height="24.08" fill="#00ffc8"/>
<rect x="11.5" y="906.56" width="16.9" height="24.08" fill="#00f2ff"/>
<rect x="11.5" y="930.34" width="16.9" height="24.08" fill="#00a2ff"/>
<rect x="11.5" y="954.12" width="16.9" height="24.08" fill="#0a32ff"/>
<rect x="11.5" y="740.1" width="16.9" height="237.8" fill="none" stroke="#4a4a40" stroke-width="0.8"/>
<line x1="28.4" y1="740.1" x2="30.9" y2="740.1" stroke="#888" stroke-width="0.8"/>
<text x="36.28" y="746.23" font-size="12.3" font-family='"Liberation Sans", sans-serif' fill="#1c1c1c" stroke="#1c1c1c" textLength="43.67" lengthAdjust="spacingAndGlyphs">4100.0</text>
<line x1="28.4" y1="763.88" x2="30.9" y2="763.88" stroke="#888" stroke-width="0.8"/>
<text x="36.28" y="770.01" font-size="12.3" font-family='"Liberation Sans", sans-serif' fill="#1c1c1c" stroke="#1c1c1c" textLength="43.67" lengthAdjust="spacingAndGlyphs">3690.0</text>
<line x1="28.4" y1="787.66" x2="30.9" y2="787.66" stroke="#888" stroke-width="0.8"/>
<text x="36.28" y="793.79" font-size="12.3" font-family='"Liberation Sans", sans-serif' fill="#1c1c1c" stroke="#1c1c1c" textLength="43.67" lengthAdjust="spacingAndGlyphs">3280.0</text>
<line x1="28.4" y1="811.44" x2="30.9" y2="811.44" stroke="#888" stroke-width="0.8"/>
<text x="36.28" y="817.57" font-size="12.3" font-family='"Liberation Sans", sans-serif' fill="#1c1c1c" stroke="#1c1c1c" textLength="43.67" lengthAdjust="spacingAndGlyphs">2870.0</text>
<line x1="28.4" y1="835.22" x2="30.9" y2="835.22" stroke="#888" stroke-width="0.8"/>
<text x="36.28" y="841.35" font-size="12.3" font-family='"Liberation Sans", sans-serif' fill="#1c1c1c" stroke="#1c1c1c" textLength="43.67" lengthAdjust="spacingAndGlyphs">2460.0</text>
<line x1="28.4" y1="859" x2="30.9" y2="859" stroke="#888" stroke-width="0.8"/>
<text x="36.28" y="865.13" font-size="12.3" font-family='"Liberation Sans", sans-serif' fill="#1c1c1c" stroke="#1c1c1c" textLength="43.67" lengthAdjust="spacingAndGlyphs">2050.0</text>
<line x1="28.4" y1="882.78" x2="30.9" y2="882.78" stroke="#888" stroke-width="0.8"/>
<text x="36.28" y="888.91" font-size="12.3" font-family='"Liberation Sans", sans-serif' fill="#1c1c1c" stroke="#1c1c1c" textLength="43.67" lengthAdjust="spacingAndGlyphs">1640.0</text>
<line x1="28.4" y1="906.56" x2="30.9" y2="906.56" stroke="#888" stroke-width="0.8"/>
<text x="36.28" y="912.69" font-size="12.3" font-family='"Liberation Sans", sans-serif' fill="#1c1c1c" stroke="#1c1c1c" textLength="43.67" lengthAdjust="spacingAndGlyphs">1230.0</text>
<line x1="28.4" y1="930.34" x2="30.9" y2="930.34" stroke="#888" stroke-width="0.8"/>
<text x="36.28" y="936.47" font-size="12.3" font-family='"Liberation Sans", sans-serif' fill="#1c1c1c" stroke="#1c1c1c" textLength="35.73" lengthAdjust="spacingAndGlyphs">820.0</text>
<line x1="28.4" y1="954.12" x2="30.9" y2="954.12" stroke="#888" stroke-width="0.8"/>
<text x="36.28" y="960.25" font-size="12.3" font-family='"Liberation Sans", sans-serif' fill="#1c1c1c" stroke="#1c1c1c" textLength="35.73" lengthAdjust="spacingAndGlyphs">410.0</text>
<line x1="28.4" y1="977.9" x2="30.9" y2="977.9" stroke="#888" stroke-width="0.8"/>
<text x="36.28" y="984.03" font-size="12.3" font-family='"Liberation Sans", sans-serif' fill="#1c1c1c" stroke="#1c1c1c" textLength="19.85" lengthAdjust="spacingAndGlyphs">0.0</text>
<text x="11.43" y="1000.31" font-size="12.98" font-family='"Liberation Sans", sans-serif' fill="#1c1c1c" stroke="#1c1c1c" textLength="26.22" lengthAdjust="spacingAndGlyphs" >[Pa]</text>
<rect x="84.9" y="728.9" width="146.4" height="69.8" fill="#0033ff"/>
<g filter="url(#blur)">
<circle cx="157.9" cy="765.4" r="17.2" fill="#00a2ff"/>
<circle cx="157.9" cy="765.4" r="12.21" fill="#00f2ff"/>
<circle cx="157.9" cy="765.4" r="9.12" fill="#00ffc8"/>
<circle cx="157.9" cy="765.4" r="6.88" fill="#00ff6a"/>
<circle cx="157.9" cy="765.4" r="4.82" fill="#44ff00"/>
<circle cx="157.9" cy="765.4" r="3.1" fill="#aaff00"/>
<circle cx="157.9" cy="765.4" r="1.72" fill="#ffff00"/>
</g>
<rect x="84.9" y="820.4" width="146.4" height="69.8" fill="#0033ff"/>
<g filter="url(#blur)">
<circle cx="157.9" cy="855.5" r="26.1" fill="#00a2ff"/>
<circle cx="157.9" cy="855.5" r="20.36" fill="#00f2ff"/>
<circle cx="157.9" cy="855.5" r="15.4" fill="#00ffc8"/>
<circle cx="157.9" cy="855.5" r="10.96" fill="#00ff6a"/>
<circle cx="157.9" cy="855.5" r="7.83" fill="#44ff00"/>
<circle cx="157.9" cy="855.5" r="5.74" fill="#aaff00"/>
<circle cx="157.9" cy="855.5" r="3.92" fill="#ffff00"/>
<circle cx="157.9" cy="855.5" r="2.35" fill="#ffa800"/>
<circle cx="157.9" cy="855.5" r="1.44" fill="#ff4400"/>
</g>
<rect x="84.9" y="920.4" width="145.4" height="69.8" fill="#0033ff"/>
<g filter="url(#blur)">
<circle cx="157.9" cy="955.8" r="27.5" fill="#00a2ff"/>
<circle cx="157.9" cy="955.8" r="21.45" fill="#00f2ff"/>
<circle cx="157.9" cy="955.8" r="16.22" fill="#00ffc8"/>
<circle cx="157.9" cy="955.8" r="11.55" fill="#00ff6a"/>
<circle cx="157.9" cy="955.8" r="8.25" fill="#44ff00"/>
<circle cx="157.9" cy="955.8" r="6.05" fill="#aaff00"/>
<circle cx="157.9" cy="955.8" r="4.12" fill="#ffff00"/>
<circle cx="157.9" cy="955.8" r="2.48" fill="#ffa800"/>
<circle cx="157.9" cy="955.8" r="1.51" fill="#ff4400"/>
</g>
<text x="251.29" y="769.42" font-size="17.78" font-family='"Liberation Serif", serif' fill="#111" stroke="#111" textLength="45.25" lengthAdjust="spacingAndGlyphs" >T=10s</text>
<text x="251.29" y="860.62" font-size="17.78" font-family='"Liberation Serif", serif' fill="#111" stroke="#111" textLength="45.25" lengthAdjust="spacingAndGlyphs" >T=20s</text>
<text x="251.59" y="960.13" font-size="17.71" font-family='"Liberation Serif", serif' fill="#111" stroke="#111" textLength="58.45" lengthAdjust="spacingAndGlyphs" >T=23.2s</text>
<path d="M360.4 723.5 V971.1 H687.5" fill="none" stroke="#1e1e1e" stroke-width="1.6"/>
<line x1="360.4" y1="965.2" x2="365.4" y2="965.2" stroke="#1e1e1e" stroke-width="1.4"/>
<text x="348.75" y="969.14" font-size="10.81" font-family='"Liberation Serif", serif' fill="#5a5a5a" stroke="#5a5a5a" textLength="5.68" lengthAdjust="spacingAndGlyphs">0</text>
<line x1="360.4" y1="953.13" x2="362.9" y2="953.13" stroke="#1e1e1e" stroke-width="1.4"/>
<line x1="360.4" y1="941.07" x2="365.4" y2="941.07" stroke="#1e1e1e" stroke-width="1.4"/>
<text x="337.39" y="945.01" font-size="10.81" font-family='"Liberation Serif", serif' fill="#5a5a5a" stroke="#5a5a5a" textLength="17.03" lengthAdjust="spacingAndGlyphs">200</text>
<line x1="360.4" y1="929" x2="362.9" y2="929" stroke="#1e1e1e" stroke-width="1.4"/>
<line x1="360.4" y1="916.94" x2="365.4" y2="916.94" stroke="#1e1e1e" stroke-width="1.4"/>
<text x="337.39" y="920.88" font-size="10.81" font-family='"Liberation Serif", serif' fill="#5a5a5a" stroke="#5a5a5a" textLength="17.03" lengthAdjust="spacingAndGlyphs">400</text>
<line x1="360.4" y1="904.88" x2="362.9" y2="904.88" stroke="#1e1e1e" stroke-width="1.4"/>
<line x1="360.4" y1="892.81" x2="365.4" y2="892.81" stroke="#1e1e1e" stroke-width="1.4"/>
<text x="337.39" y="896.75" font-size="10.81" font-family='"Liberation Serif", serif' fill="#5a5a5a" stroke="#5a5a5a" textLength="17.03" lengthAdjust="spacingAndGlyphs">600</text>
<line x1="360.4" y1="880.75" x2="362.9" y2="880.75" stroke="#1e1e1e" stroke-width="1.4"/>
<line x1="360.4" y1="868.68" x2="365.4" y2="868.68" stroke="#1e1e1e" stroke-width="1.4"/>
<text x="337.39" y="872.62" font-size="10.81" font-family='"Liberation Serif", serif' fill="#5a5a5a" stroke="#5a5a5a" textLength="17.03" lengthAdjust="spacingAndGlyphs">800</text>
<line x1="360.4" y1="856.62" x2="362.9" y2="856.62" stroke="#1e1e1e" stroke-width="1.4"/>
<line x1="360.4" y1="844.55" x2="365.4" y2="844.55" stroke="#1e1e1e" stroke-width="1.4"/>
<text x="331.71" y="848.49" font-size="10.81" font-family='"Liberation Serif", serif' fill="#5a5a5a" stroke="#5a5a5a" textLength="22.71" lengthAdjust="spacingAndGlyphs">1000</text>
<line x1="360.4" y1="832.49" x2="362.9" y2="832.49" stroke="#1e1e1e" stroke-width="1.4"/>
<line x1="360.4" y1="820.42" x2="365.4" y2="820.42" stroke="#1e1e1e" stroke-width="1.4"/>
<text x="331.71" y="824.36" font-size="10.81" font-family='"Liberation Serif", serif' fill="#5a5a5a" stroke="#5a5a5a" textLength="22.71" lengthAdjust="spacingAndGlyphs">1200</text>
<line x1="360.4" y1="808.36" x2="362.9" y2="808.36" stroke="#1e1e1e" stroke-width="1.4"/>
<line x1="360.4" y1="796.29" x2="365.4" y2="796.29" stroke="#1e1e1e" stroke-width="1.4"/>
<text x="331.71" y="800.23" font-size="10.81" font-family='"Liberation Serif", serif' fill="#5a5a5a" stroke="#5a5a5a" textLength="22.71" lengthAdjust="spacingAndGlyphs">1400</text>
<line x1="360.4" y1="784.23" x2="362.9" y2="784.23" stroke="#1e1e1e" stroke-width="1.4"/>
<line x1="360.4" y1="772.16" x2="365.4" y2="772.16" stroke="#1e1e1e" stroke-width="1.4"/>
<text x="331.71" y="776.1" font-size="10.81" font-family='"Liberation Serif", serif' fill="#5a5a5a" stroke="#5a5a5a" textLength="22.71" lengthAdjust="spacingAndGlyphs">1600</text>
<line x1="360.4" y1="760.1" x2="362.9" y2="760.1" stroke="#1e1e1e" stroke-width="1.4"/>
<line x1="360.4" y1="748.03" x2="365.4" y2="748.03" stroke="#1e1e1e" stroke-width="1.4"/>
<text x="331.71" y="751.97" font-size="10.81" font-family='"Liberation Serif", serif' fill="#5a5a5a" stroke="#5a5a5a" textLength="22.71" lengthAdjust="spacingAndGlyphs">1800</text>
<line x1="360.4" y1="735.97" x2="362.9" y2="735.97" stroke="#1e1e1e" stroke-width="1.4"/>
<line x1="360.4" y1="723.9" x2="365.4" y2="723.9" stroke="#1e1e1e" stroke-width="1.4"/>
<text x="331.71" y="727.84" font-size="10.81" font-family='"Liberation Serif", serif' fill="#5a5a5a" stroke="#5a5a5a" textLength="22.71" lengthAdjust="spacingAndGlyphs">2000</text>
<line x1="360.4" y1="723.5" x2="365.4" y2="723.5" stroke="#1e1e1e" stroke-width="1.4"/>
<line x1="373" y1="971.1" x2="373" y2="966.6" stroke="#1e1e1e" stroke-width="1.4"/>
<text x="370.16" y="985.74" font-size="10.81" font-family='"Liberation Serif", serif' fill="#5a5a5a" stroke="#5a5a5a" textLength="5.68" lengthAdjust="spacingAndGlyphs">0</text>
<line x1="404.45" y1="971.1" x2="404.45" y2="968.6" stroke="#1e1e1e" stroke-width="1.4"/>
<line x1="435.9" y1="971.1" x2="435.9" y2="966.6" stroke="#1e1e1e" stroke-width="1.4"/>
<text x="432.96" y="985.74" font-size="10.81" font-family='"Liberation Serif", serif' fill="#5a5a5a" stroke="#5a5a5a" textLength="5.68" lengthAdjust="spacingAndGlyphs">5</text>
<line x1="467.35" y1="971.1" x2="467.35" y2="968.6" stroke="#1e1e1e" stroke-width="1.4"/>
<line x1="498.8" y1="971.1" x2="498.8" y2="966.6" stroke="#1e1e1e" stroke-width="1.4"/>
<text x="492.84" y="985.74" font-size="10.81" font-family='"Liberation Serif", serif' fill="#5a5a5a" stroke="#5a5a5a" textLength="11.36" lengthAdjust="spacingAndGlyphs">10</text>
<line x1="530.25" y1="971.1" x2="530.25" y2="968.6" stroke="#1e1e1e" stroke-width="1.4"/>
<line x1="561.7" y1="971.1" x2="561.7" y2="966.6" stroke="#1e1e1e" stroke-width="1.4"/>
<text x="555.75" y="985.74" font-size="10.81" font-family='"Liberation Serif", serif' fill="#5a5a5a" stroke="#5a5a5a" textLength="11.36" lengthAdjust="spacingAndGlyphs">15</text>
<line x1="593.15" y1="971.1" x2="593.15" y2="968.6" stroke="#1e1e1e" stroke-width="1.4"/>
<line x1="624.6" y1="971.1" x2="624.6" y2="966.6" stroke="#1e1e1e" stroke-width="1.4"/>
<text x="618.88" y="985.74" font-size="10.81" font-family='"Liberation Serif", serif' fill="#5a5a5a" stroke="#5a5a5a" textLength="11.36" lengthAdjust="spacingAndGlyphs">20</text>
<line x1="656.05" y1="971.1" x2="656.05" y2="968.6" stroke="#1e1e1e" stroke-width="1.4"/>
<line x1="687.5" y1="971.1" x2="687.5" y2="966.6" stroke="#1e1e1e" stroke-width="1.4"/>
<text x="681.79" y="985.74" font-size="10.81" font-family='"Liberation Serif", serif' fill="#5a5a5a" stroke="#5a5a5a" textLength="11.36" lengthAdjust="spacingAndGlyphs">25</text>
<text x="493.86" y="1003.26" font-size="13.68" font-family='"Liberation Serif", serif' fill="#2a2a2a" stroke="#2a2a2a" textLength="27.96" lengthAdjust="spacingAndGlyphs" >Time</text>
<text x="530.23" y="1003.4" font-size="13.68" font-family='"Liberation Serif", serif' fill="#2a2a2a" stroke="#2a2a2a" textLength="15.6" lengthAdjust="spacingAndGlyphs">(s)</text>
<g transform="translate(327 892) rotate(-90)">
<text x="-0.46" y="-0.15" font-size="15.19" font-family='"Liberation Serif", serif' fill="#707070" stroke="#707070" textLength="52.2" lengthAdjust="spacingAndGlyphs" >Pressure</text>
<text x="59.44" y="0" font-size="15.19" font-family='"Liberation Serif", serif' fill="#707070" stroke="#707070" textLength="21.93" lengthAdjust="spacingAndGlyphs">(Pa)</text>
</g>
<polyline points="385.58,965.2 398.16,965.2 410.74,948.55 423.32,925.87 435.9,906.56 448.48,890.64 461.06,876.16 473.64,863.61 486.22,852.51 498.8,842.38 511.38,832.24 523.96,823.56 536.54,815.35 549.12,807.15 561.7,799.43 574.28,792.19 586.86,785.43 599.44,778.68 612.02,772.4 624.6,767.09 637.18,760.82 649.76,755.51 662.34,750.2" fill="none" stroke="#ee3a3a" stroke-width="1.3"/>
<rect x="382.63" y="962.25" width="5.89" height="5.89" fill="#ee3a3a"/>
<rect x="395.22" y="962.25" width="5.89" height="5.89" fill="#ee3a3a"/>
<rect x="407.8" y="945.61" width="5.89" height="5.89" fill="#ee3a3a"/>
<rect x="420.38" y="922.92" width="5.89" height="5.89" fill="#ee3a3a"/>
<rect x="432.95" y="903.62" width="5.89" height="5.89" fill="#ee3a3a"/>
<rect x="445.54" y="887.69" width="5.89" height="5.89" fill="#ee3a3a"/>
<rect x="458.12" y="873.22" width="5.89" height="5.89" fill="#ee3a3a"/>
<rect x="470.69" y="860.67" width="5.89" height="5.89" fill="#ee3a3a"/>
<rect x="483.28" y="849.57" width="5.89" height="5.89" fill="#ee3a3a"/>
<rect x="495.86" y="839.43" width="5.89" height="5.89" fill="#ee3a3a"/>
<rect x="508.44" y="829.3" width="5.89" height="5.89" fill="#ee3a3a"/>
<rect x="521.01" y="820.61" width="5.89" height="5.89" fill="#ee3a3a"/>
<rect x="533.59" y="812.41" width="5.89" height="5.89" fill="#ee3a3a"/>
<rect x="546.17" y="804.2" width="5.89" height="5.89" fill="#ee3a3a"/>
<rect x="558.75" y="796.48" width="5.89" height="5.89" fill="#ee3a3a"/>
<rect x="571.33" y="789.24" width="5.89" height="5.89" fill="#ee3a3a"/>
<rect x="583.91" y="782.49" width="5.89" height="5.89" fill="#ee3a3a"/>
<rect x="596.5" y="775.73" width="5.89" height="5.89" fill="#ee3a3a"/>
<rect x="609.07" y="769.46" width="5.89" height="5.89" fill="#ee3a3a"/>
<rect x="621.65" y="764.15" width="5.89" height="5.89" fill="#ee3a3a"/>
<rect x="634.24" y="757.87" width="5.89" height="5.89" fill="#ee3a3a"/>
<rect x="646.81" y="752.57" width="5.89" height="5.89" fill="#ee3a3a"/>
<rect x="659.39" y="747.26" width="5.89" height="5.89" fill="#ee3a3a"/>
<polyline points="385.58,964.84 398.16,964.72 410.74,964.6 423.32,964.48 435.9,964.36 448.48,964.23 461.06,964.11 473.64,963.99 486.22,965.2 498.8,957.72 511.38,948.55 523.96,939.86 536.54,931.18 549.12,922.97 561.7,915.73 574.28,908.49 586.86,901.74 599.44,894.98 612.02,889.19 624.6,882.92 637.18,877.13 649.76,871.33 662.34,866.03" fill="none" stroke="#1f6ae3" stroke-width="1.3"/>
<circle cx="385.58" cy="964.84" r="3.42" fill="#1f6ae3"/>
<circle cx="398.16" cy="964.72" r="3.42" fill="#1f6ae3"/>
<circle cx="410.74" cy="964.6" r="3.42" fill="#1f6ae3"/>
<circle cx="423.32" cy="964.48" r="3.42" fill="#1f6ae3"/>
<circle cx="435.9" cy="964.36" r="3.42" fill="#1f6ae3"/>
<circle cx="448.48" cy="964.23" r="3.42" fill="#1f6ae3"/>
<circle cx="461.06" cy="964.11" r="3.42" fill="#1f6ae3"/>
<circle cx="473.64" cy="963.99" r="3.42" fill="#1f6ae3"/>
<circle cx="486.22" cy="965.2" r="3.42" fill="#1f6ae3"/>
<circle cx="498.8" cy="957.72" r="3.42" fill="#1f6ae3"/>
<circle cx="511.38" cy="948.55" r="3.42" fill="#1f6ae3"/>
<circle cx="523.96" cy="939.86" r="3.42" fill="#1f6ae3"/>
<circle cx="536.54" cy="931.18" r="3.42" fill="#1f6ae3"/>
<circle cx="549.12" cy="922.97" r="3.42" fill="#1f6ae3"/>
<circle cx="561.7" cy="915.73" r="3.42" fill="#1f6ae3"/>
<circle cx="574.28" cy="908.49" r="3.42" fill="#1f6ae3"/>
<circle cx="586.86" cy="901.74" r="3.42" fill="#1f6ae3"/>
<circle cx="599.44" cy="894.98" r="3.42" fill="#1f6ae3"/>
<circle cx="612.02" cy="889.19" r="3.42" fill="#1f6ae3"/>
<circle cx="624.6" cy="882.92" r="3.42" fill="#1f6ae3"/>
<circle cx="637.18" cy="877.13" r="3.42" fill="#1f6ae3"/>
<circle cx="649.76" cy="871.33" r="3.42" fill="#1f6ae3"/>
<circle cx="662.34" cy="866.03" r="3.42" fill="#1f6ae3"/>
<polyline points="385.58,964.96 398.16,964.72 410.74,964.48 423.32,964.36 435.9,964.23 448.48,963.99 461.06,963.75 473.64,963.51 486.22,963.27 498.8,963.03 511.38,962.79 523.96,962.55 536.54,962.3 549.12,962.06 561.7,961.82 574.28,961.58 586.86,961.34 599.44,961.1 612.02,960.86 624.6,960.62 637.18,960.13 649.76,955.79 662.34,950" fill="none" stroke="#31ab62" stroke-width="1.3"/>
<path d="M381.4 967.9 L389.76 967.9 L385.58 960.68 Z" fill="#31ab62"/>
<path d="M393.98 967.66 L402.34 967.66 L398.16 960.44 Z" fill="#31ab62"/>
<path d="M406.56 967.42 L414.92 967.42 L410.74 960.2 Z" fill="#31ab62"/>
<path d="M419.14 967.3 L427.5 967.3 L423.32 960.08 Z" fill="#31ab62"/>
<path d="M431.72 967.18 L440.08 967.18 L435.9 959.96 Z" fill="#31ab62"/>
<path d="M444.3 966.94 L452.66 966.94 L448.48 959.72 Z" fill="#31ab62"/>
<path d="M456.88 966.7 L465.24 966.7 L461.06 959.48 Z" fill="#31ab62"/>
<path d="M469.46 966.46 L477.82 966.46 L473.64 959.24 Z" fill="#31ab62"/>
<path d="M482.04 966.21 L490.4 966.21 L486.22 958.99 Z" fill="#31ab62"/>
<path d="M494.62 965.97 L502.98 965.97 L498.8 958.75 Z" fill="#31ab62"/>
<path d="M507.2 965.73 L515.56 965.73 L511.38 958.51 Z" fill="#31ab62"/>
<path d="M519.78 965.49 L528.14 965.49 L523.96 958.27 Z" fill="#31ab62"/>
<path d="M532.36 965.25 L540.72 965.25 L536.54 958.03 Z" fill="#31ab62"/>
<path d="M544.94 965.01 L553.3 965.01 L549.12 957.79 Z" fill="#31ab62"/>
<path d="M557.52 964.77 L565.88 964.77 L561.7 957.55 Z" fill="#31ab62"/>
<path d="M570.1 964.53 L578.46 964.53 L574.28 957.31 Z" fill="#31ab62"/>
<path d="M582.68 964.28 L591.04 964.28 L586.86 957.06 Z" fill="#31ab62"/>
<path d="M595.26 964.04 L603.62 964.04 L599.44 956.82 Z" fill="#31ab62"/>
<path d="M607.84 963.8 L616.2 963.8 L612.02 956.58 Z" fill="#31ab62"/>
<path d="M620.42 963.56 L628.78 963.56 L624.6 956.34 Z" fill="#31ab62"/>
<path d="M633 963.08 L641.36 963.08 L637.18 955.86 Z" fill="#31ab62"/>
<path d="M645.58 958.73 L653.94 958.73 L649.76 951.51 Z" fill="#31ab62"/>
<path d="M658.16 952.94 L666.52 952.94 L662.34 945.72 Z" fill="#31ab62"/>
<rect x="381.8" y="726.4" width="79.6" height="49.6" fill="#fff" stroke="#1e1e1e" stroke-width="1.3"/>
<line x1="384" y1="734.9" x2="414.6" y2="734.9" stroke="#ee3a3a" stroke-width="1.3"/>
<rect x="396.36" y="731.95" width="5.89" height="5.89" fill="#ee3a3a"/>
<text x="417.69" y="739.48" font-size="12.3" font-family='"Liberation Serif", serif' fill="#1a1a1a" stroke="#1a1a1a" textLength="42.12" lengthAdjust="spacingAndGlyphs" >100mm</text>
<line x1="384" y1="750.9" x2="414.6" y2="750.9" stroke="#1f6ae3" stroke-width="1.3"/>
<circle cx="399.3" cy="750.9" r="3.42" fill="#1f6ae3"/>
<text x="418.29" y="755.48" font-size="12.3" font-family='"Liberation Serif", serif' fill="#1a1a1a" stroke="#1a1a1a" textLength="41.52" lengthAdjust="spacingAndGlyphs" >200mm</text>
<line x1="384" y1="766.8" x2="414.6" y2="766.8" stroke="#31ab62" stroke-width="1.3"/>
<path d="M395.12 769.75 L403.48 769.75 L399.3 762.52 Z" fill="#31ab62"/>
<text x="418.25" y="771.38" font-size="12.3" font-family='"Liberation Serif", serif' fill="#1a1a1a" stroke="#1a1a1a" textLength="41.56" lengthAdjust="spacingAndGlyphs" >300mm</text>
<text x="302.22" y="1047.2" font-size="20.44" font-family='"Liberation Serif", serif' fill="#111" stroke="#111" textLength="100.22" lengthAdjust="spacingAndGlyphs">(c) <tspan font-style="italic">n</tspan>=0.99</text>
<text x="14.67" y="1083.97" font-size="13.19" font-family='"Liberation Sans", sans-serif' fill="#1c1c1c" stroke="#1c1c1c" textLength="59.48" lengthAdjust="spacingAndGlyphs" >Pressure</text>
<rect x="15.8" y="1094.4" width="16.1" height="24.18" fill="#ff4400"/>
<rect x="15.8" y="1118.28" width="16.1" height="24.18" fill="#ffa800"/>
<rect x="15.8" y="1142.16" width="16.1" height="24.18" fill="#ffff00"/>
<rect x="15.8" y="1166.04" width="16.1" height="24.18" fill="#aaff00"/>
<rect x="15.8" y="1189.92" width="16.1" height="24.18" fill="#44ff00"/>
<rect x="15.8" y="1213.8" width="16.1" height="24.18" fill="#00ff6a"/>
<rect x="15.8" y="1237.68" width="16.1" height="24.18" fill="#00ffc8"/>
<rect x="15.8" y="1261.56" width="16.1" height="24.18" fill="#00f2ff"/>
<rect x="15.8" y="1285.44" width="16.1" height="24.18" fill="#00a2ff"/>
<rect x="15.8" y="1309.32" width="16.1" height="24.18" fill="#0a32ff"/>
<rect x="15.8" y="1094.4" width="16.1" height="238.8" fill="none" stroke="#4a4a40" stroke-width="0.8"/>
<line x1="31.9" y1="1094.4" x2="34.4" y2="1094.4" stroke="#888" stroke-width="0.8"/>
<text x="40.58" y="1100.23" font-size="11.73" font-family='"Liberation Sans", sans-serif' fill="#1c1c1c" stroke="#1c1c1c" textLength="43.67" lengthAdjust="spacingAndGlyphs">4900.0</text>
<line x1="31.9" y1="1118.28" x2="34.4" y2="1118.28" stroke="#888" stroke-width="0.8"/>
<text x="40.58" y="1124.11" font-size="11.73" font-family='"Liberation Sans", sans-serif' fill="#1c1c1c" stroke="#1c1c1c" textLength="43.67" lengthAdjust="spacingAndGlyphs">4410.0</text>
<line x1="31.9" y1="1142.16" x2="34.4" y2="1142.16" stroke="#888" stroke-width="0.8"/>
<text x="40.58" y="1147.99" font-size="11.73" font-family='"Liberation Sans", sans-serif' fill="#1c1c1c" stroke="#1c1c1c" textLength="43.67" lengthAdjust="spacingAndGlyphs">3920.0</text>
<line x1="31.9" y1="1166.04" x2="34.4" y2="1166.04" stroke="#888" stroke-width="0.8"/>
<text x="40.58" y="1171.87" font-size="11.73" font-family='"Liberation Sans", sans-serif' fill="#1c1c1c" stroke="#1c1c1c" textLength="43.67" lengthAdjust="spacingAndGlyphs">3430.0</text>
<line x1="31.9" y1="1189.92" x2="34.4" y2="1189.92" stroke="#888" stroke-width="0.8"/>
<text x="40.58" y="1195.75" font-size="11.73" font-family='"Liberation Sans", sans-serif' fill="#1c1c1c" stroke="#1c1c1c" textLength="43.67" lengthAdjust="spacingAndGlyphs">2940.0</text>
<line x1="31.9" y1="1213.8" x2="34.4" y2="1213.8" stroke="#888" stroke-width="0.8"/>
<text x="40.58" y="1219.63" font-size="11.73" font-family='"Liberation Sans", sans-serif' fill="#1c1c1c" stroke="#1c1c1c" textLength="43.67" lengthAdjust="spacingAndGlyphs">2450.0</text>
<line x1="31.9" y1="1237.68" x2="34.4" y2="1237.68" stroke="#888" stroke-width="0.8"/>
<text x="40.58" y="1243.51" font-size="11.73" font-family='"Liberation Sans", sans-serif' fill="#1c1c1c" stroke="#1c1c1c" textLength="43.67" lengthAdjust="spacingAndGlyphs">1960.0</text>
<line x1="31.9" y1="1261.56" x2="34.4" y2="1261.56" stroke="#888" stroke-width="0.8"/>
<text x="40.58" y="1267.39" font-size="11.73" font-family='"Liberation Sans", sans-serif' fill="#1c1c1c" stroke="#1c1c1c" textLength="43.67" lengthAdjust="spacingAndGlyphs">1470.0</text>
<line x1="31.9" y1="1285.44" x2="34.4" y2="1285.44" stroke="#888" stroke-width="0.8"/>
<text x="40.58" y="1291.27" font-size="11.73" font-family='"Liberation Sans", sans-serif' fill="#1c1c1c" stroke="#1c1c1c" textLength="35.73" lengthAdjust="spacingAndGlyphs">980.0</text>
<line x1="31.9" y1="1309.32" x2="34.4" y2="1309.32" stroke="#888" stroke-width="0.8"/>
<text x="40.58" y="1315.15" font-size="11.73" font-family='"Liberation Sans", sans-serif' fill="#1c1c1c" stroke="#1c1c1c" textLength="35.73" lengthAdjust="spacingAndGlyphs">490.0</text>
<line x1="31.9" y1="1333.2" x2="34.4" y2="1333.2" stroke="#888" stroke-width="0.8"/>
<text x="40.58" y="1339.03" font-size="11.73" font-family='"Liberation Sans", sans-serif' fill="#1c1c1c" stroke="#1c1c1c" textLength="19.85" lengthAdjust="spacingAndGlyphs">0.0</text>
<text x="14.81" y="1355.85" font-size="13.73" font-family='"Liberation Sans", sans-serif' fill="#1c1c1c" stroke="#1c1c1c" textLength="26.66" lengthAdjust="spacingAndGlyphs" >[Pa]</text>
<rect x="88.4" y="1086.1" width="145.7" height="68.9" fill="#0033ff"/>
<g filter="url(#blur)">
<circle cx="161.5" cy="1121.1" r="16.6" fill="#00a2ff"/>
<circle cx="161.5" cy="1121.1" r="12.12" fill="#00f2ff"/>
<circle cx="161.5" cy="1121.1" r="8.13" fill="#00ffc8"/>
<circle cx="161.5" cy="1121.1" r="5.98" fill="#00ff6a"/>
<circle cx="161.5" cy="1121.1" r="4.15" fill="#44ff00"/>
<circle cx="161.5" cy="1121.1" r="2.66" fill="#aaff00"/>
<circle cx="161.5" cy="1121.1" r="1.66" fill="#ffff00"/>
</g>
<rect x="88.4" y="1178.3" width="145.7" height="68.9" fill="#0033ff"/>
<g filter="url(#blur)">
<circle cx="161.5" cy="1212.6" r="24.9" fill="#00a2ff"/>
<circle cx="161.5" cy="1212.6" r="18.67" fill="#00f2ff"/>
<circle cx="161.5" cy="1212.6" r="13.94" fill="#00ffc8"/>
<circle cx="161.5" cy="1212.6" r="9.96" fill="#00ff6a"/>
<circle cx="161.5" cy="1212.6" r="6.72" fill="#44ff00"/>
<circle cx="161.5" cy="1212.6" r="4.73" fill="#aaff00"/>
<circle cx="161.5" cy="1212.6" r="2.99" fill="#ffff00"/>
<circle cx="161.5" cy="1212.6" r="1.87" fill="#ffa800"/>
<circle cx="161.5" cy="1212.6" r="1.25" fill="#ff4400"/>
</g>
<rect x="88.4" y="1277.1" width="145.7" height="69.7" fill="#0033ff"/>
<g filter="url(#blur)">
<circle cx="161.5" cy="1311.8" r="26.7" fill="#00a2ff"/>
<circle cx="161.5" cy="1311.8" r="20.02" fill="#00f2ff"/>
<circle cx="161.5" cy="1311.8" r="14.95" fill="#00ffc8"/>
<circle cx="161.5" cy="1311.8" r="10.68" fill="#00ff6a"/>
<circle cx="161.5" cy="1311.8" r="7.21" fill="#44ff00"/>
<circle cx="161.5" cy="1311.8" r="5.07" fill="#aaff00"/>
<circle cx="161.5" cy="1311.8" r="3.2" fill="#ffff00"/>
<circle cx="161.5" cy="1311.8" r="2" fill="#ffa800"/>
<circle cx="161.5" cy="1311.8" r="1.33" fill="#ff4400"/>
</g>
<text x="256.99" y="1125.72" font-size="17.78" font-family='"Liberation Serif", serif' fill="#111" stroke="#111" textLength="45.25" lengthAdjust="spacingAndGlyphs" >T=10s</text>
<text x="257" y="1217.92" font-size="17.78" font-family='"Liberation Serif", serif' fill="#111" stroke="#111" textLength="44.13" lengthAdjust="spacingAndGlyphs" >T=20s</text>
<text x="255.89" y="1316.33" font-size="17.71" font-family='"Liberation Serif", serif' fill="#111" stroke="#111" textLength="58.86" lengthAdjust="spacingAndGlyphs" >T=23.4s</text>
<path d="M364.8 1079.2 V1325.2 H683.35" fill="none" stroke="#1e1e1e" stroke-width="1.6"/>
<line x1="364.8" y1="1300.9" x2="369.8" y2="1300.9" stroke="#1e1e1e" stroke-width="1.4"/>
<text x="354.03" y="1304.89" font-size="10.96" font-family='"Liberation Serif", serif' fill="#5a5a5a" stroke="#5a5a5a" textLength="5.48" lengthAdjust="spacingAndGlyphs">0</text>
<line x1="364.8" y1="1276.26" x2="367.3" y2="1276.26" stroke="#1e1e1e" stroke-width="1.4"/>
<line x1="364.8" y1="1251.62" x2="369.8" y2="1251.62" stroke="#1e1e1e" stroke-width="1.4"/>
<text x="343.07" y="1255.61" font-size="10.96" font-family='"Liberation Serif", serif' fill="#5a5a5a" stroke="#5a5a5a" textLength="16.44" lengthAdjust="spacingAndGlyphs">500</text>
<line x1="364.8" y1="1226.98" x2="367.3" y2="1226.98" stroke="#1e1e1e" stroke-width="1.4"/>
<line x1="364.8" y1="1202.34" x2="369.8" y2="1202.34" stroke="#1e1e1e" stroke-width="1.4"/>
<text x="337.59" y="1206.33" font-size="10.96" font-family='"Liberation Serif", serif' fill="#5a5a5a" stroke="#5a5a5a" textLength="21.93" lengthAdjust="spacingAndGlyphs">1000</text>
<line x1="364.8" y1="1177.7" x2="367.3" y2="1177.7" stroke="#1e1e1e" stroke-width="1.4"/>
<line x1="364.8" y1="1153.06" x2="369.8" y2="1153.06" stroke="#1e1e1e" stroke-width="1.4"/>
<text x="337.59" y="1157.05" font-size="10.96" font-family='"Liberation Serif", serif' fill="#5a5a5a" stroke="#5a5a5a" textLength="21.93" lengthAdjust="spacingAndGlyphs">1500</text>
<line x1="364.8" y1="1128.42" x2="367.3" y2="1128.42" stroke="#1e1e1e" stroke-width="1.4"/>
<line x1="364.8" y1="1103.78" x2="369.8" y2="1103.78" stroke="#1e1e1e" stroke-width="1.4"/>
<text x="337.59" y="1107.77" font-size="10.96" font-family='"Liberation Serif", serif' fill="#5a5a5a" stroke="#5a5a5a" textLength="21.93" lengthAdjust="spacingAndGlyphs">2000</text>
<line x1="364.8" y1="1079.14" x2="367.3" y2="1079.14" stroke="#1e1e1e" stroke-width="1.4"/>
<line x1="364.8" y1="1079.2" x2="369.8" y2="1079.2" stroke="#1e1e1e" stroke-width="1.4"/>
<line x1="376.6" y1="1325.2" x2="376.6" y2="1320.7" stroke="#1e1e1e" stroke-width="1.4"/>
<text x="373.86" y="1340.19" font-size="10.96" font-family='"Liberation Serif", serif' fill="#5a5a5a" stroke="#5a5a5a" textLength="5.48" lengthAdjust="spacingAndGlyphs">0</text>
<line x1="407.28" y1="1325.2" x2="407.28" y2="1322.7" stroke="#1e1e1e" stroke-width="1.4"/>
<line x1="437.95" y1="1325.2" x2="437.95" y2="1320.7" stroke="#1e1e1e" stroke-width="1.4"/>
<text x="435.11" y="1340.19" font-size="10.96" font-family='"Liberation Serif", serif' fill="#5a5a5a" stroke="#5a5a5a" textLength="5.48" lengthAdjust="spacingAndGlyphs">5</text>
<line x1="468.62" y1="1325.2" x2="468.62" y2="1322.7" stroke="#1e1e1e" stroke-width="1.4"/>
<line x1="499.3" y1="1325.2" x2="499.3" y2="1320.7" stroke="#1e1e1e" stroke-width="1.4"/>
<text x="493.54" y="1340.19" font-size="10.96" font-family='"Liberation Serif", serif' fill="#5a5a5a" stroke="#5a5a5a" textLength="10.96" lengthAdjust="spacingAndGlyphs">10</text>
<line x1="529.98" y1="1325.2" x2="529.98" y2="1322.7" stroke="#1e1e1e" stroke-width="1.4"/>
<line x1="560.65" y1="1325.2" x2="560.65" y2="1320.7" stroke="#1e1e1e" stroke-width="1.4"/>
<text x="554.91" y="1340.19" font-size="10.96" font-family='"Liberation Serif", serif' fill="#5a5a5a" stroke="#5a5a5a" textLength="10.96" lengthAdjust="spacingAndGlyphs">15</text>
<line x1="591.33" y1="1325.2" x2="591.33" y2="1322.7" stroke="#1e1e1e" stroke-width="1.4"/>
<line x1="622" y1="1325.2" x2="622" y2="1320.7" stroke="#1e1e1e" stroke-width="1.4"/>
<text x="616.48" y="1340.19" font-size="10.96" font-family='"Liberation Serif", serif' fill="#5a5a5a" stroke="#5a5a5a" textLength="10.96" lengthAdjust="spacingAndGlyphs">20</text>
<line x1="652.67" y1="1325.2" x2="652.67" y2="1322.7" stroke="#1e1e1e" stroke-width="1.4"/>
<line x1="683.35" y1="1325.2" x2="683.35" y2="1320.7" stroke="#1e1e1e" stroke-width="1.4"/>
<text x="677.84" y="1340.19" font-size="10.96" font-family='"Liberation Serif", serif' fill="#5a5a5a" stroke="#5a5a5a" textLength="10.96" lengthAdjust="spacingAndGlyphs">25</text>
<text x="495.37" y="1357.17" font-size="13.09" font-family='"Liberation Serif", serif' fill="#2a2a2a" stroke="#2a2a2a" textLength="26.93" lengthAdjust="spacingAndGlyphs" >Time</text>
<text x="530.38" y="1357.3" font-size="13.09" font-family='"Liberation Serif", serif' fill="#2a2a2a" stroke="#2a2a2a" textLength="15.02" lengthAdjust="spacingAndGlyphs">(s)</text>
<g transform="translate(332 1246.6) rotate(-90)">
<text x="-0.46" y="-0.15" font-size="15.19" font-family='"Liberation Serif", serif' fill="#707070" stroke="#707070" textLength="51.94" lengthAdjust="spacingAndGlyphs" >Pressure</text>
<text x="59.15" y="0" font-size="15.19" font-family='"Liberation Serif", serif' fill="#707070" stroke="#707070" textLength="21.82" lengthAdjust="spacingAndGlyphs">(Pa)</text>
</g>
<polyline points="388.87,1300.9 401.14,1300.9 413.41,1283.16 425.68,1259.5 437.95,1244.13 450.22,1229.15 462.49,1216.14 474.76,1204.61 487.03,1194.95 499.3,1185.29 511.57,1176.62 523.84,1168.44 536.11,1161.24 548.38,1154.44 560.65,1148.13 572.92,1141.43 585.19,1135.61 597.46,1129.8 609.73,1124.48 622,1119.25 634.27,1114.42 646.54,1109.6 658.81,1105.26" fill="none" stroke="#ee3a3a" stroke-width="1.3"/>
<rect x="385.93" y="1297.96" width="5.89" height="5.89" fill="#ee3a3a"/>
<rect x="398.2" y="1297.96" width="5.89" height="5.89" fill="#ee3a3a"/>
<rect x="410.47" y="1280.21" width="5.89" height="5.89" fill="#ee3a3a"/>
<rect x="422.74" y="1256.56" width="5.89" height="5.89" fill="#ee3a3a"/>
<rect x="435.01" y="1241.18" width="5.89" height="5.89" fill="#ee3a3a"/>
<rect x="447.28" y="1226.2" width="5.89" height="5.89" fill="#ee3a3a"/>
<rect x="459.55" y="1213.19" width="5.89" height="5.89" fill="#ee3a3a"/>
<rect x="471.81" y="1201.66" width="5.89" height="5.89" fill="#ee3a3a"/>
<rect x="484.09" y="1192" width="5.89" height="5.89" fill="#ee3a3a"/>
<rect x="496.36" y="1182.34" width="5.89" height="5.89" fill="#ee3a3a"/>
<rect x="508.63" y="1173.67" width="5.89" height="5.89" fill="#ee3a3a"/>
<rect x="520.89" y="1165.49" width="5.89" height="5.89" fill="#ee3a3a"/>
<rect x="533.16" y="1158.3" width="5.89" height="5.89" fill="#ee3a3a"/>
<rect x="545.43" y="1151.49" width="5.89" height="5.89" fill="#ee3a3a"/>
<rect x="557.7" y="1145.19" width="5.89" height="5.89" fill="#ee3a3a"/>
<rect x="569.98" y="1138.48" width="5.89" height="5.89" fill="#ee3a3a"/>
<rect x="582.25" y="1132.67" width="5.89" height="5.89" fill="#ee3a3a"/>
<rect x="594.51" y="1126.85" width="5.89" height="5.89" fill="#ee3a3a"/>
<rect x="606.78" y="1121.53" width="5.89" height="5.89" fill="#ee3a3a"/>
<rect x="619.05" y="1116.31" width="5.89" height="5.89" fill="#ee3a3a"/>
<rect x="631.32" y="1111.48" width="5.89" height="5.89" fill="#ee3a3a"/>
<rect x="643.59" y="1106.65" width="5.89" height="5.89" fill="#ee3a3a"/>
<rect x="655.86" y="1102.31" width="5.89" height="5.89" fill="#ee3a3a"/>
<polyline points="388.87,1300.41 401.14,1300.31 413.41,1300.21 425.68,1300.11 437.95,1300.01 450.22,1299.91 462.49,1299.82 474.76,1299.72 487.03,1299.62 499.3,1293.8 511.57,1284.64 523.84,1276.95 536.11,1269.26 548.38,1262.95 560.65,1256.15 572.92,1249.94 585.19,1243.74 597.46,1237.92 609.73,1233.09 622,1227.77 634.27,1222.45 646.54,1217.62 658.81,1212.79" fill="none" stroke="#1f6ae3" stroke-width="1.3"/>
<circle cx="388.87" cy="1300.41" r="3.42" fill="#1f6ae3"/>
<circle cx="401.14" cy="1300.31" r="3.42" fill="#1f6ae3"/>
<circle cx="413.41" cy="1300.21" r="3.42" fill="#1f6ae3"/>
<circle cx="425.68" cy="1300.11" r="3.42" fill="#1f6ae3"/>
<circle cx="437.95" cy="1300.01" r="3.42" fill="#1f6ae3"/>
<circle cx="450.22" cy="1299.91" r="3.42" fill="#1f6ae3"/>
<circle cx="462.49" cy="1299.82" r="3.42" fill="#1f6ae3"/>
<circle cx="474.76" cy="1299.72" r="3.42" fill="#1f6ae3"/>
<circle cx="487.03" cy="1299.62" r="3.42" fill="#1f6ae3"/>
<circle cx="499.3" cy="1293.8" r="3.42" fill="#1f6ae3"/>
<circle cx="511.57" cy="1284.64" r="3.42" fill="#1f6ae3"/>
<circle cx="523.84" cy="1276.95" r="3.42" fill="#1f6ae3"/>
<circle cx="536.11" cy="1269.26" r="3.42" fill="#1f6ae3"/>
<circle cx="548.38" cy="1262.95" r="3.42" fill="#1f6ae3"/>
<circle cx="560.65" cy="1256.15" r="3.42" fill="#1f6ae3"/>
<circle cx="572.92" cy="1249.94" r="3.42" fill="#1f6ae3"/>
<circle cx="585.19" cy="1243.74" r="3.42" fill="#1f6ae3"/>
<circle cx="597.46" cy="1237.92" r="3.42" fill="#1f6ae3"/>
<circle cx="609.73" cy="1233.09" r="3.42" fill="#1f6ae3"/>
<circle cx="622" cy="1227.77" r="3.42" fill="#1f6ae3"/>
<circle cx="634.27" cy="1222.45" r="3.42" fill="#1f6ae3"/>
<circle cx="646.54" cy="1217.62" r="3.42" fill="#1f6ae3"/>
<circle cx="658.81" cy="1212.79" r="3.42" fill="#1f6ae3"/>
<polyline points="388.87,1300.6 401.14,1300.41 413.41,1300.21 425.68,1300.01 437.95,1299.82 450.22,1299.62 462.49,1299.42 474.76,1299.22 487.03,1298.93 499.3,1298.63 511.57,1298.44 523.84,1298.24 536.11,1298.04 548.38,1297.84 560.65,1297.65 572.92,1297.45 585.19,1297.35 597.46,1297.25 609.73,1297.15 622,1296.96 634.27,1296.76 646.54,1292.33 658.81,1287.99" fill="none" stroke="#31ab62" stroke-width="1.3"/>
<path d="M384.69 1303.55 L393.05 1303.55 L388.87 1296.33 Z" fill="#31ab62"/>
<path d="M396.96 1303.35 L405.32 1303.35 L401.14 1296.13 Z" fill="#31ab62"/>
<path d="M409.23 1303.16 L417.59 1303.16 L413.41 1295.94 Z" fill="#31ab62"/>
<path d="M421.5 1302.96 L429.86 1302.96 L425.68 1295.74 Z" fill="#31ab62"/>
<path d="M433.77 1302.76 L442.13 1302.76 L437.95 1295.54 Z" fill="#31ab62"/>
<path d="M446.04 1302.56 L454.4 1302.56 L450.22 1295.34 Z" fill="#31ab62"/>
<path d="M458.31 1302.37 L466.67 1302.37 L462.49 1295.15 Z" fill="#31ab62"/>
<path d="M470.58 1302.17 L478.94 1302.17 L474.76 1294.95 Z" fill="#31ab62"/>
<path d="M482.85 1301.87 L491.21 1301.87 L487.03 1294.65 Z" fill="#31ab62"/>
<path d="M495.12 1301.58 L503.48 1301.58 L499.3 1294.36 Z" fill="#31ab62"/>
<path d="M507.39 1301.38 L515.75 1301.38 L511.57 1294.16 Z" fill="#31ab62"/>
<path d="M519.66 1301.18 L528.02 1301.18 L523.84 1293.96 Z" fill="#31ab62"/>
<path d="M531.93 1300.99 L540.29 1300.99 L536.11 1293.77 Z" fill="#31ab62"/>
<path d="M544.2 1300.79 L552.56 1300.79 L548.38 1293.57 Z" fill="#31ab62"/>
<path d="M556.47 1300.59 L564.83 1300.59 L560.65 1293.37 Z" fill="#31ab62"/>
<path d="M568.74 1300.4 L577.1 1300.4 L572.92 1293.18 Z" fill="#31ab62"/>
<path d="M581.01 1300.3 L589.37 1300.3 L585.19 1293.08 Z" fill="#31ab62"/>
<path d="M593.28 1300.2 L601.64 1300.2 L597.46 1292.98 Z" fill="#31ab62"/>
<path d="M605.55 1300.1 L613.91 1300.1 L609.73 1292.88 Z" fill="#31ab62"/>
<path d="M617.82 1299.9 L626.18 1299.9 L622 1292.68 Z" fill="#31ab62"/>
<path d="M630.09 1299.71 L638.45 1299.71 L634.27 1292.49 Z" fill="#31ab62"/>
<path d="M642.36 1295.27 L650.72 1295.27 L646.54 1288.05 Z" fill="#31ab62"/>
<path d="M654.63 1290.93 L662.99 1290.93 L658.81 1283.71 Z" fill="#31ab62"/>
<rect x="380.4" y="1091.4" width="77.6" height="49.3" fill="#fff" stroke="#1e1e1e" stroke-width="1.3"/>
<line x1="382.1" y1="1100.6" x2="412.2" y2="1100.6" stroke="#ee3a3a" stroke-width="1.3"/>
<rect x="394.45" y="1097.65" width="5.89" height="5.89" fill="#ee3a3a"/>
<text x="415.22" y="1104.77" font-size="12.74" font-family='"Liberation Serif", serif' fill="#1a1a1a" stroke="#1a1a1a" textLength="41.09" lengthAdjust="spacingAndGlyphs" >100mm</text>
<line x1="382.1" y1="1116.5" x2="412.2" y2="1116.5" stroke="#1f6ae3" stroke-width="1.3"/>
<circle cx="397.4" cy="1116.5" r="3.42" fill="#1f6ae3"/>
<text x="415.8" y="1120.67" font-size="12.74" font-family='"Liberation Serif", serif' fill="#1a1a1a" stroke="#1a1a1a" textLength="40.5" lengthAdjust="spacingAndGlyphs" >200mm</text>
<line x1="382.1" y1="1132.1" x2="412.2" y2="1132.1" stroke="#31ab62" stroke-width="1.3"/>
<path d="M393.22 1135.04 L401.58 1135.04 L397.4 1127.82 Z" fill="#31ab62"/>
<text x="415.77" y="1136.27" font-size="12.74" font-family='"Liberation Serif", serif' fill="#1a1a1a" stroke="#1a1a1a" textLength="40.54" lengthAdjust="spacingAndGlyphs" >300mm</text>
<text x="301.22" y="1401.5" font-size="20.44" font-family='"Liberation Serif", serif' fill="#111" stroke="#111" textLength="101.21" lengthAdjust="spacingAndGlyphs">(d) <tspan font-style="italic">n</tspan>=1.09</text>
<text x="19.53" y="1432.88" font-size="11.61" font-family='"Liberation Sans", sans-serif' fill="#1c1c1c" stroke="#1c1c1c" textLength="51.94" lengthAdjust="spacingAndGlyphs" >Pressure</text>
<rect x="20.1" y="1442.2" width="14.7" height="22.04" fill="#ff4400"/>
<rect x="20.1" y="1463.94" width="14.7" height="22.04" fill="#ffa800"/>
<rect x="20.1" y="1485.68" width="14.7" height="22.04" fill="#ffff00"/>
<rect x="20.1" y="1507.42" width="14.7" height="22.04" fill="#aaff00"/>
<rect x="20.1" y="1529.16" width="14.7" height="22.04" fill="#44ff00"/>
<rect x="20.1" y="1550.9" width="14.7" height="22.04" fill="#00ff6a"/>
<rect x="20.1" y="1572.64" width="14.7" height="22.04" fill="#00ffc8"/>
<rect x="20.1" y="1594.38" width="14.7" height="22.04" fill="#00f2ff"/>
<rect x="20.1" y="1616.12" width="14.7" height="22.04" fill="#00a2ff"/>
<rect x="20.1" y="1637.86" width="14.7" height="22.04" fill="#0a32ff"/>
<rect x="20.1" y="1442.2" width="14.7" height="217.4" fill="none" stroke="#4a4a40" stroke-width="0.8"/>
<line x1="34.8" y1="1442.2" x2="37.3" y2="1442.2" stroke="#888" stroke-width="0.8"/>
<text x="41.45" y="1447.69" font-size="11.31" font-family='"Liberation Sans", sans-serif' fill="#1c1c1c" stroke="#1c1c1c" textLength="39.96" lengthAdjust="spacingAndGlyphs">6300.0</text>
<line x1="34.8" y1="1463.94" x2="37.3" y2="1463.94" stroke="#888" stroke-width="0.8"/>
<text x="41.45" y="1469.43" font-size="11.31" font-family='"Liberation Sans", sans-serif' fill="#1c1c1c" stroke="#1c1c1c" textLength="39.96" lengthAdjust="spacingAndGlyphs">5670.0</text>
<line x1="34.8" y1="1485.68" x2="37.3" y2="1485.68" stroke="#888" stroke-width="0.8"/>
<text x="41.45" y="1491.17" font-size="11.31" font-family='"Liberation Sans", sans-serif' fill="#1c1c1c" stroke="#1c1c1c" textLength="39.96" lengthAdjust="spacingAndGlyphs">5040.0</text>
<line x1="34.8" y1="1507.42" x2="37.3" y2="1507.42" stroke="#888" stroke-width="0.8"/>
<text x="41.45" y="1512.91" font-size="11.31" font-family='"Liberation Sans", sans-serif' fill="#1c1c1c" stroke="#1c1c1c" textLength="39.96" lengthAdjust="spacingAndGlyphs">4410.0</text>
<line x1="34.8" y1="1529.16" x2="37.3" y2="1529.16" stroke="#888" stroke-width="0.8"/>
<text x="41.45" y="1534.65" font-size="11.31" font-family='"Liberation Sans", sans-serif' fill="#1c1c1c" stroke="#1c1c1c" textLength="39.96" lengthAdjust="spacingAndGlyphs">3780.0</text>
<line x1="34.8" y1="1550.9" x2="37.3" y2="1550.9" stroke="#888" stroke-width="0.8"/>
<text x="41.45" y="1556.39" font-size="11.31" font-family='"Liberation Sans", sans-serif' fill="#1c1c1c" stroke="#1c1c1c" textLength="39.96" lengthAdjust="spacingAndGlyphs">3150.0</text>
<line x1="34.8" y1="1572.64" x2="37.3" y2="1572.64" stroke="#888" stroke-width="0.8"/>
<text x="41.45" y="1578.13" font-size="11.31" font-family='"Liberation Sans", sans-serif' fill="#1c1c1c" stroke="#1c1c1c" textLength="39.96" lengthAdjust="spacingAndGlyphs">2520.0</text>
<line x1="34.8" y1="1594.38" x2="37.3" y2="1594.38" stroke="#888" stroke-width="0.8"/>
<text x="41.45" y="1599.87" font-size="11.31" font-family='"Liberation Sans", sans-serif' fill="#1c1c1c" stroke="#1c1c1c" textLength="39.96" lengthAdjust="spacingAndGlyphs">1890.0</text>
<line x1="34.8" y1="1616.12" x2="37.3" y2="1616.12" stroke="#888" stroke-width="0.8"/>
<text x="41.45" y="1621.61" font-size="11.31" font-family='"Liberation Sans", sans-serif' fill="#1c1c1c" stroke="#1c1c1c" textLength="39.96" lengthAdjust="spacingAndGlyphs">1260.0</text>
<line x1="34.8" y1="1637.86" x2="37.3" y2="1637.86" stroke="#888" stroke-width="0.8"/>
<text x="41.45" y="1643.35" font-size="11.31" font-family='"Liberation Sans", sans-serif' fill="#1c1c1c" stroke="#1c1c1c" textLength="32.69" lengthAdjust="spacingAndGlyphs">630.0</text>
<line x1="34.8" y1="1659.6" x2="37.3" y2="1659.6" stroke="#888" stroke-width="0.8"/>
<text x="41.45" y="1665.09" font-size="11.31" font-family='"Liberation Sans", sans-serif' fill="#1c1c1c" stroke="#1c1c1c" textLength="18.16" lengthAdjust="spacingAndGlyphs">0.0</text>
<text x="18.89" y="1679.79" font-size="12.12" font-family='"Liberation Sans", sans-serif' fill="#1c1c1c" stroke="#1c1c1c" textLength="24.7" lengthAdjust="spacingAndGlyphs" >[Pa]</text>
<rect x="88.4" y="1428.1" width="134.6" height="65.7" fill="#0033ff"/>
<g filter="url(#blur)">
<circle cx="155.6" cy="1461.7" r="14.9" fill="#00a2ff"/>
<circle cx="155.6" cy="1461.7" r="9.98" fill="#00f2ff"/>
<circle cx="155.6" cy="1461.7" r="6.41" fill="#00ffc8"/>
<circle cx="155.6" cy="1461.7" r="4.77" fill="#00ff6a"/>
<circle cx="155.6" cy="1461.7" r="3.28" fill="#44ff00"/>
<circle cx="155.6" cy="1461.7" r="2.38" fill="#aaff00"/>
<circle cx="155.6" cy="1461.7" r="1.64" fill="#ffff00"/>
<circle cx="155.6" cy="1461.7" r="0.89" fill="#ffa800"/>
</g>
<rect x="88.4" y="1512.9" width="134.6" height="67.5" fill="#0033ff"/>
<g filter="url(#blur)">
<circle cx="155.2" cy="1546.5" r="22.1" fill="#00a2ff"/>
<circle cx="155.2" cy="1546.5" r="15.47" fill="#00f2ff"/>
<circle cx="155.2" cy="1546.5" r="11.05" fill="#00ffc8"/>
<circle cx="155.2" cy="1546.5" r="8.18" fill="#00ff6a"/>
<circle cx="155.2" cy="1546.5" r="6.19" fill="#44ff00"/>
<circle cx="155.2" cy="1546.5" r="4.64" fill="#aaff00"/>
<circle cx="155.2" cy="1546.5" r="3.31" fill="#ffff00"/>
<circle cx="155.2" cy="1546.5" r="1.99" fill="#ffa800"/>
<circle cx="155.2" cy="1546.5" r="1.22" fill="#ff4400"/>
</g>
<rect x="86.6" y="1601.4" width="136.4" height="66.8" fill="#0033ff"/>
<g filter="url(#blur)">
<circle cx="154.8" cy="1634.6" r="24.7" fill="#00a2ff"/>
<circle cx="154.8" cy="1634.6" r="17.29" fill="#00f2ff"/>
<circle cx="154.8" cy="1634.6" r="12.35" fill="#00ffc8"/>
<circle cx="154.8" cy="1634.6" r="9.14" fill="#00ff6a"/>
<circle cx="154.8" cy="1634.6" r="6.92" fill="#44ff00"/>
<circle cx="154.8" cy="1634.6" r="5.19" fill="#aaff00"/>
<circle cx="154.8" cy="1634.6" r="3.7" fill="#ffff00"/>
<circle cx="154.8" cy="1634.6" r="2.22" fill="#ffa800"/>
<circle cx="154.8" cy="1634.6" r="1.36" fill="#ff4400"/>
</g>
<text x="244.11" y="1463.33" font-size="16.74" font-family='"Liberation Serif", serif' fill="#111" stroke="#111" textLength="42.19" lengthAdjust="spacingAndGlyphs" >T=10s</text>
<text x="244.11" y="1551.53" font-size="16.74" font-family='"Liberation Serif", serif' fill="#111" stroke="#111" textLength="42.19" lengthAdjust="spacingAndGlyphs" >T=20s</text>
<text x="244.11" y="1639.95" font-size="16.62" font-family='"Liberation Serif", serif' fill="#111" stroke="#111" textLength="54.39" lengthAdjust="spacingAndGlyphs" >T=20.1s</text>
<path d="M364 1423.5 V1652.6 H663.92" fill="none" stroke="#5c5c5c" stroke-width="1.6"/>
<line x1="364" y1="1648.3" x2="369" y2="1648.3" stroke="#1e1e1e" stroke-width="1.4"/>
<text x="353.64" y="1652" font-size="10.07" font-family='"Liberation Serif", serif' fill="#5a5a5a" stroke="#5a5a5a" textLength="5.04" lengthAdjust="spacingAndGlyphs">0</text>
<line x1="364" y1="1625.88" x2="366.5" y2="1625.88" stroke="#1e1e1e" stroke-width="1.4"/>
<line x1="364" y1="1603.45" x2="369" y2="1603.45" stroke="#1e1e1e" stroke-width="1.4"/>
<text x="343.57" y="1607.15" font-size="10.07" font-family='"Liberation Serif", serif' fill="#5a5a5a" stroke="#5a5a5a" textLength="15.11" lengthAdjust="spacingAndGlyphs">500</text>
<line x1="364" y1="1581.02" x2="366.5" y2="1581.02" stroke="#1e1e1e" stroke-width="1.4"/>
<line x1="364" y1="1558.6" x2="369" y2="1558.6" stroke="#1e1e1e" stroke-width="1.4"/>
<text x="338.53" y="1562.3" font-size="10.07" font-family='"Liberation Serif", serif' fill="#5a5a5a" stroke="#5a5a5a" textLength="20.15" lengthAdjust="spacingAndGlyphs">1000</text>
<line x1="364" y1="1536.17" x2="366.5" y2="1536.17" stroke="#1e1e1e" stroke-width="1.4"/>
<line x1="364" y1="1513.75" x2="369" y2="1513.75" stroke="#1e1e1e" stroke-width="1.4"/>
<text x="338.53" y="1517.45" font-size="10.07" font-family='"Liberation Serif", serif' fill="#5a5a5a" stroke="#5a5a5a" textLength="20.15" lengthAdjust="spacingAndGlyphs">1500</text>
<line x1="364" y1="1491.33" x2="366.5" y2="1491.33" stroke="#1e1e1e" stroke-width="1.4"/>
<line x1="364" y1="1468.9" x2="369" y2="1468.9" stroke="#1e1e1e" stroke-width="1.4"/>
<text x="338.53" y="1472.6" font-size="10.07" font-family='"Liberation Serif", serif' fill="#5a5a5a" stroke="#5a5a5a" textLength="20.15" lengthAdjust="spacingAndGlyphs">2000</text>
<line x1="364" y1="1446.47" x2="366.5" y2="1446.47" stroke="#1e1e1e" stroke-width="1.4"/>
<line x1="364" y1="1424.05" x2="369" y2="1424.05" stroke="#1e1e1e" stroke-width="1.4"/>
<text x="338.53" y="1427.75" font-size="10.07" font-family='"Liberation Serif", serif' fill="#5a5a5a" stroke="#5a5a5a" textLength="20.15" lengthAdjust="spacingAndGlyphs">2500</text>
<line x1="364" y1="1423.5" x2="369" y2="1423.5" stroke="#1e1e1e" stroke-width="1.4"/>
<line x1="375.3" y1="1652.6" x2="375.3" y2="1648.1" stroke="#1e1e1e" stroke-width="1.4"/>
<text x="372.78" y="1666.4" font-size="10.07" font-family='"Liberation Serif", serif' fill="#5a5a5a" stroke="#5a5a5a" textLength="5.04" lengthAdjust="spacingAndGlyphs">0</text>
<line x1="404.16" y1="1652.6" x2="404.16" y2="1650.1" stroke="#1e1e1e" stroke-width="1.4"/>
<line x1="433.03" y1="1652.6" x2="433.03" y2="1648.1" stroke="#1e1e1e" stroke-width="1.4"/>
<text x="430.42" y="1666.4" font-size="10.07" font-family='"Liberation Serif", serif' fill="#5a5a5a" stroke="#5a5a5a" textLength="5.04" lengthAdjust="spacingAndGlyphs">5</text>
<line x1="461.89" y1="1652.6" x2="461.89" y2="1650.1" stroke="#1e1e1e" stroke-width="1.4"/>
<line x1="490.75" y1="1652.6" x2="490.75" y2="1648.1" stroke="#1e1e1e" stroke-width="1.4"/>
<text x="485.46" y="1666.4" font-size="10.07" font-family='"Liberation Serif", serif' fill="#5a5a5a" stroke="#5a5a5a" textLength="10.07" lengthAdjust="spacingAndGlyphs">10</text>
<line x1="519.61" y1="1652.6" x2="519.61" y2="1650.1" stroke="#1e1e1e" stroke-width="1.4"/>
<line x1="548.48" y1="1652.6" x2="548.48" y2="1648.1" stroke="#1e1e1e" stroke-width="1.4"/>
<text x="543.2" y="1666.4" font-size="10.07" font-family='"Liberation Serif", serif' fill="#5a5a5a" stroke="#5a5a5a" textLength="10.07" lengthAdjust="spacingAndGlyphs">15</text>
<line x1="577.34" y1="1652.6" x2="577.34" y2="1650.1" stroke="#1e1e1e" stroke-width="1.4"/>
<line x1="606.2" y1="1652.6" x2="606.2" y2="1648.1" stroke="#1e1e1e" stroke-width="1.4"/>
<text x="601.13" y="1666.4" font-size="10.07" font-family='"Liberation Serif", serif' fill="#5a5a5a" stroke="#5a5a5a" textLength="10.07" lengthAdjust="spacingAndGlyphs">20</text>
<line x1="635.06" y1="1652.6" x2="635.06" y2="1650.1" stroke="#1e1e1e" stroke-width="1.4"/>
<line x1="663.92" y1="1652.6" x2="663.92" y2="1648.1" stroke="#1e1e1e" stroke-width="1.4"/>
<text x="658.86" y="1666.4" font-size="10.07" font-family='"Liberation Serif", serif' fill="#5a5a5a" stroke="#5a5a5a" textLength="10.07" lengthAdjust="spacingAndGlyphs">25</text>
<text x="486.08" y="1682.57" font-size="12.79" font-family='"Liberation Serif", serif' fill="#2a2a2a" stroke="#2a2a2a" textLength="25.99" lengthAdjust="spacingAndGlyphs" >Time</text>
<text x="519.88" y="1682.7" font-size="12.79" font-family='"Liberation Serif", serif' fill="#2a2a2a" stroke="#2a2a2a" textLength="14.51" lengthAdjust="spacingAndGlyphs">(s)</text>
<g transform="translate(332.8 1579.8) rotate(-90)">
<text x="-0.43" y="-0.13" font-size="13.23" font-family='"Liberation Serif", serif' fill="#707070" stroke="#707070" textLength="48.65" lengthAdjust="spacingAndGlyphs" >Pressure</text>
<text x="55.4" y="0" font-size="13.23" font-family='"Liberation Serif", serif' fill="#707070" stroke="#707070" textLength="20.44" lengthAdjust="spacingAndGlyphs">(Pa)</text>
</g>
<polyline points="386.85,1648.3 398.39,1648.3 409.94,1629.01 421.48,1606.05 433.03,1586.41 444.57,1570.26 456.12,1559.23 467.66,1546.76 479.21,1536.26 490.75,1526.85 502.3,1518.41 513.84,1509 525.38,1502.18 536.93,1495.81 548.48,1488.63 560.02,1483.07 571.57,1476.7 583.11,1471.14 594.65,1465.58 606.2,1460.92 617.75,1456.25 629.29,1451.14 640.84,1446.03" fill="none" stroke="#ee3a3a" stroke-width="1.3"/>
<rect x="384.12" y="1645.57" width="5.46" height="5.46" fill="#ee3a3a"/>
<rect x="395.66" y="1645.57" width="5.46" height="5.46" fill="#ee3a3a"/>
<rect x="407.21" y="1626.29" width="5.46" height="5.46" fill="#ee3a3a"/>
<rect x="418.75" y="1603.32" width="5.46" height="5.46" fill="#ee3a3a"/>
<rect x="430.3" y="1583.68" width="5.46" height="5.46" fill="#ee3a3a"/>
<rect x="441.84" y="1567.53" width="5.46" height="5.46" fill="#ee3a3a"/>
<rect x="453.39" y="1556.5" width="5.46" height="5.46" fill="#ee3a3a"/>
<rect x="464.93" y="1544.03" width="5.46" height="5.46" fill="#ee3a3a"/>
<rect x="476.48" y="1533.54" width="5.46" height="5.46" fill="#ee3a3a"/>
<rect x="488.02" y="1524.12" width="5.46" height="5.46" fill="#ee3a3a"/>
<rect x="499.57" y="1515.69" width="5.46" height="5.46" fill="#ee3a3a"/>
<rect x="511.11" y="1506.27" width="5.46" height="5.46" fill="#ee3a3a"/>
<rect x="522.66" y="1499.45" width="5.46" height="5.46" fill="#ee3a3a"/>
<rect x="534.2" y="1493.08" width="5.46" height="5.46" fill="#ee3a3a"/>
<rect x="545.75" y="1485.91" width="5.46" height="5.46" fill="#ee3a3a"/>
<rect x="557.29" y="1480.34" width="5.46" height="5.46" fill="#ee3a3a"/>
<rect x="568.84" y="1473.98" width="5.46" height="5.46" fill="#ee3a3a"/>
<rect x="580.38" y="1468.41" width="5.46" height="5.46" fill="#ee3a3a"/>
<rect x="591.93" y="1462.85" width="5.46" height="5.46" fill="#ee3a3a"/>
<rect x="603.47" y="1458.19" width="5.46" height="5.46" fill="#ee3a3a"/>
<rect x="615.02" y="1453.52" width="5.46" height="5.46" fill="#ee3a3a"/>
<rect x="626.56" y="1448.41" width="5.46" height="5.46" fill="#ee3a3a"/>
<rect x="638.11" y="1443.3" width="5.46" height="5.46" fill="#ee3a3a"/>
<polyline points="386.85,1647.85 398.39,1647.76 409.94,1647.67 421.48,1647.58 433.03,1647.49 444.57,1647.4 456.12,1647.4 467.66,1645.16 479.21,1647.4 490.75,1641.75 502.3,1632.42 513.84,1623.45 525.38,1616.73 536.93,1609.91 548.48,1603.45 560.02,1597.17 571.57,1591.61 583.11,1585.6 594.65,1580.49 606.2,1575.37 617.75,1570.26 629.29,1566.05 640.84,1560.93" fill="none" stroke="#1f6ae3" stroke-width="1.3"/>
<circle cx="386.85" cy="1647.85" r="3.17" fill="#1f6ae3"/>
<circle cx="398.39" cy="1647.76" r="3.17" fill="#1f6ae3"/>
<circle cx="409.94" cy="1647.67" r="3.17" fill="#1f6ae3"/>
<circle cx="421.48" cy="1647.58" r="3.17" fill="#1f6ae3"/>
<circle cx="433.03" cy="1647.49" r="3.17" fill="#1f6ae3"/>
<circle cx="444.57" cy="1647.4" r="3.17" fill="#1f6ae3"/>
<circle cx="456.12" cy="1647.4" r="3.17" fill="#1f6ae3"/>
<circle cx="467.66" cy="1645.16" r="3.17" fill="#1f6ae3"/>
<circle cx="479.21" cy="1647.4" r="3.17" fill="#1f6ae3"/>
<circle cx="490.75" cy="1641.75" r="3.17" fill="#1f6ae3"/>
<circle cx="502.3" cy="1632.42" r="3.17" fill="#1f6ae3"/>
<circle cx="513.84" cy="1623.45" r="3.17" fill="#1f6ae3"/>
<circle cx="525.38" cy="1616.73" r="3.17" fill="#1f6ae3"/>
<circle cx="536.93" cy="1609.91" r="3.17" fill="#1f6ae3"/>
<circle cx="548.48" cy="1603.45" r="3.17" fill="#1f6ae3"/>
<circle cx="560.02" cy="1597.17" r="3.17" fill="#1f6ae3"/>
<circle cx="571.57" cy="1591.61" r="3.17" fill="#1f6ae3"/>
<circle cx="583.11" cy="1585.6" r="3.17" fill="#1f6ae3"/>
<circle cx="594.65" cy="1580.49" r="3.17" fill="#1f6ae3"/>
<circle cx="606.2" cy="1575.37" r="3.17" fill="#1f6ae3"/>
<circle cx="617.75" cy="1570.26" r="3.17" fill="#1f6ae3"/>
<circle cx="629.29" cy="1566.05" r="3.17" fill="#1f6ae3"/>
<circle cx="640.84" cy="1560.93" r="3.17" fill="#1f6ae3"/>
<polyline points="386.85,1648.21 398.39,1648.03 409.94,1647.85 421.48,1647.67 433.03,1647.49 444.57,1647.31 456.12,1647.13 467.66,1646.95 479.21,1646.78 490.75,1646.51 502.3,1646.33 513.84,1646.15 525.38,1645.97 536.93,1645.79 548.48,1645.61 560.02,1645.52 571.57,1645.43 583.11,1645.34 594.65,1645.25 606.2,1645.16 617.75,1643.9 629.29,1640.5 640.84,1635.47" fill="none" stroke="#31ab62" stroke-width="1.3"/>
<path d="M382.97 1650.94 L390.72 1650.94 L386.85 1644.25 Z" fill="#31ab62"/>
<path d="M394.52 1650.76 L402.26 1650.76 L398.39 1644.07 Z" fill="#31ab62"/>
<path d="M406.06 1650.58 L413.81 1650.58 L409.94 1643.89 Z" fill="#31ab62"/>
<path d="M417.61 1650.4 L425.35 1650.4 L421.48 1643.71 Z" fill="#31ab62"/>
<path d="M429.15 1650.22 L436.9 1650.22 L433.03 1643.53 Z" fill="#31ab62"/>
<path d="M440.7 1650.04 L448.44 1650.04 L444.57 1643.35 Z" fill="#31ab62"/>
<path d="M452.24 1649.86 L459.99 1649.86 L456.12 1643.17 Z" fill="#31ab62"/>
<path d="M463.79 1649.68 L471.53 1649.68 L467.66 1642.99 Z" fill="#31ab62"/>
<path d="M475.33 1649.5 L483.08 1649.5 L479.21 1642.82 Z" fill="#31ab62"/>
<path d="M486.88 1649.23 L494.62 1649.23 L490.75 1642.55 Z" fill="#31ab62"/>
<path d="M498.42 1649.05 L506.17 1649.05 L502.3 1642.37 Z" fill="#31ab62"/>
<path d="M509.97 1648.88 L517.71 1648.88 L513.84 1642.19 Z" fill="#31ab62"/>
<path d="M521.51 1648.7 L529.26 1648.7 L525.38 1642.01 Z" fill="#31ab62"/>
<path d="M533.06 1648.52 L540.8 1648.52 L536.93 1641.83 Z" fill="#31ab62"/>
<path d="M544.6 1648.34 L552.35 1648.34 L548.48 1641.65 Z" fill="#31ab62"/>
<path d="M556.15 1648.25 L563.89 1648.25 L560.02 1641.56 Z" fill="#31ab62"/>
<path d="M567.69 1648.16 L575.44 1648.16 L571.57 1641.47 Z" fill="#31ab62"/>
<path d="M579.24 1648.07 L586.98 1648.07 L583.11 1641.38 Z" fill="#31ab62"/>
<path d="M590.78 1647.98 L598.53 1647.98 L594.65 1641.29 Z" fill="#31ab62"/>
<path d="M602.33 1647.89 L610.07 1647.89 L606.2 1641.2 Z" fill="#31ab62"/>
<path d="M613.87 1646.63 L621.62 1646.63 L617.75 1639.94 Z" fill="#31ab62"/>
<path d="M625.42 1643.22 L633.16 1643.22 L629.29 1636.54 Z" fill="#31ab62"/>
<path d="M636.96 1638.2 L644.71 1638.2 L640.84 1631.51 Z" fill="#31ab62"/>
<rect x="385" y="1425.7" width="72.7" height="46.1" fill="#fff" stroke="#1e1e1e" stroke-width="1.3"/>
<line x1="387.1" y1="1433.9" x2="414.8" y2="1433.9" stroke="#ee3a3a" stroke-width="1.3"/>
<rect x="397.87" y="1431.17" width="5.46" height="5.46" fill="#ee3a3a"/>
<text x="417.49" y="1438.28" font-size="11.56" font-family='"Liberation Serif", serif' fill="#1a1a1a" stroke="#1a1a1a" textLength="38.6" lengthAdjust="spacingAndGlyphs" >100mm</text>
<line x1="387.1" y1="1449.1" x2="414.8" y2="1449.1" stroke="#1f6ae3" stroke-width="1.3"/>
<circle cx="400.6" cy="1449.1" r="3.17" fill="#1f6ae3"/>
<text x="418.04" y="1453.48" font-size="11.56" font-family='"Liberation Serif", serif' fill="#1a1a1a" stroke="#1a1a1a" textLength="38.06" lengthAdjust="spacingAndGlyphs" >200mm</text>
<line x1="387.1" y1="1463.3" x2="414.8" y2="1463.3" stroke="#31ab62" stroke-width="1.3"/>
<path d="M396.73 1466.03 L404.47 1466.03 L400.6 1459.34 Z" fill="#31ab62"/>
<text x="418.01" y="1467.68" font-size="11.56" font-family='"Liberation Serif", serif' fill="#1a1a1a" stroke="#1a1a1a" textLength="38.09" lengthAdjust="spacingAndGlyphs" >300mm</text>
<text x="302.23" y="1719" font-size="20.44" font-family='"Liberation Serif", serif' fill="#111" stroke="#111" textLength="99.3" lengthAdjust="spacingAndGlyphs">(e) <tspan font-style="italic">n</tspan>=1.19</text>
<circle cx="157.2" cy="741.6" r="0.9" fill="#0a20b0" opacity="0.6"/>
<circle cx="184.3" cy="1124.7" r="0.9" fill="#0a20b0" opacity="0.6"/>
<circle cx="192.3" cy="1201.3" r="0.9" fill="#0a20b0" opacity="0.6"/>
<circle cx="184.3" cy="1536.2" r="0.9" fill="#0a20b0" opacity="0.6"/>
<circle cx="185.0" cy="1621.0" r="0.9" fill="#0a20b0" opacity="0.6"/>
</g>
</svg>
</body></html>
